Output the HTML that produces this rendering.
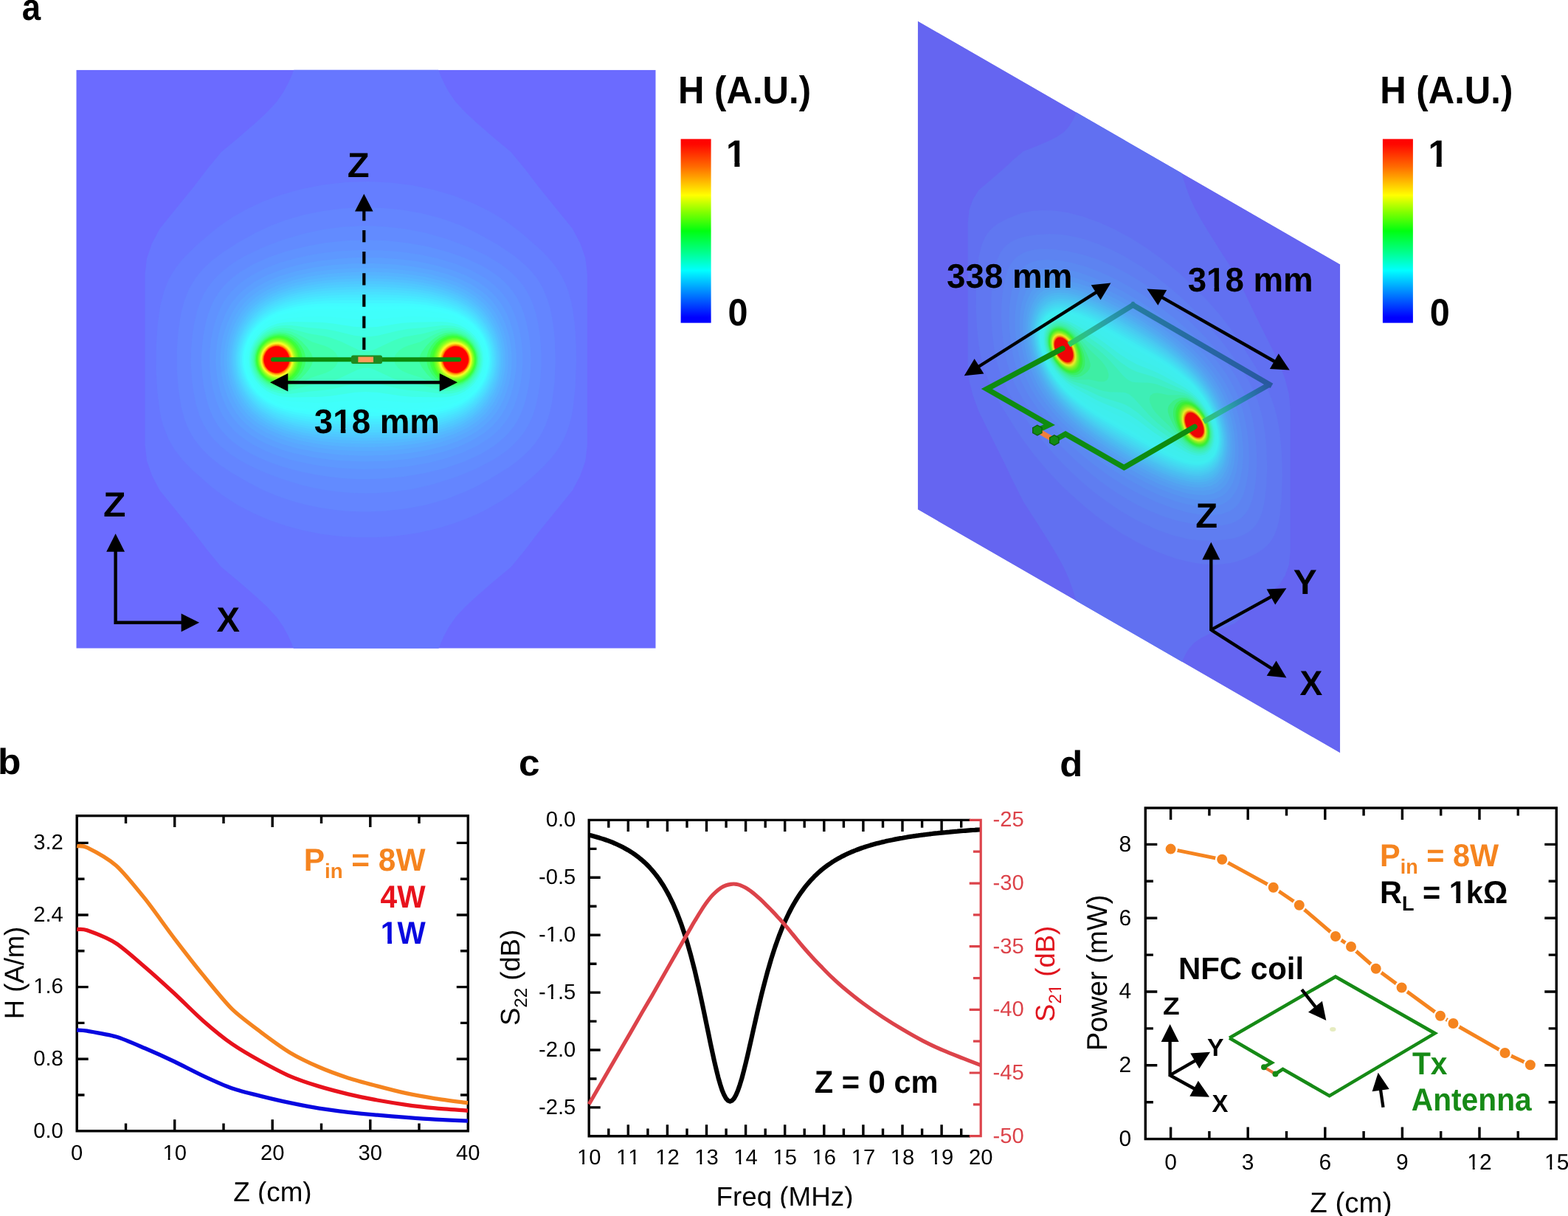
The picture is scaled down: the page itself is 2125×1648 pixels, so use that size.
<!DOCTYPE html>
<html lang="en"><head><meta charset="utf-8"><title>Figure: H-field of Tx antenna, S-parameters and harvested power</title>
<style>
html,body{margin:0;padding:0;background:#fff;}
body{width:2125px;height:1648px;overflow:hidden;}
svg{display:block;font-family:'Liberation Sans', Arial, sans-serif;font-kerning:none;text-rendering:geometricPrecision;}
</style></head><body>
<svg width="2125" height="1648" viewBox="0 0 2125 1648">
<defs>
<clipPath id="hmclip"><rect x="103.3" y="94.7" width="785.4" height="784.0"/></clipPath>
<linearGradient id="cbar" x1="0" y1="0" x2="0" y2="1">
<stop offset="0" stop-color="#ff0000"/><stop offset="0.03" stop-color="#ff0800"/><stop offset="0.15" stop-color="#ff6a00"/><stop offset="0.306" stop-color="#ffff00"/>
<stop offset="0.40" stop-color="#80ff00"/><stop offset="0.50" stop-color="#00ff10"/><stop offset="0.62" stop-color="#00ff90"/><stop offset="0.715" stop-color="#00ffff"/>
<stop offset="0.85" stop-color="#0078ff"/><stop offset="0.97" stop-color="#0000ff"/><stop offset="1" stop-color="#0000ff"/>
</linearGradient>
<g id="hm" clip-path="url(#hmclip)">
<rect x="103.3" y="94.7" width="785.4" height="784.0" fill="#6b6bff"/>
<polygon fill="#6777ff" points="398.5,94.0 395.0,103.0 390.5,113.0 384.0,125.0 375.0,138.0 362.0,152.0 347.0,166.0 324.0,186.0 300.0,206.0 281.0,229.0 263.5,252.0 240.0,281.0 216.5,310.0 206.0,330.0 199.0,350.0 196.5,372.0 196.5,602.6 199.0,624.6 206.0,644.6 216.5,664.6 240.0,693.6 263.5,722.6 281.0,745.6 300.0,768.6 324.0,788.6 347.0,808.6 362.0,822.6 375.0,836.6 384.0,849.6 390.5,861.6 395.0,871.6 398.5,880.6 593.9,880.6 597.4,871.6 601.9,861.6 608.4,849.6 617.4,836.6 630.4,822.6 645.4,808.6 668.4,788.6 692.4,768.6 711.4,745.6 728.9,722.6 752.4,693.6 775.9,664.6 786.4,644.6 793.4,624.6 795.9,602.6 795.9,372.0 793.4,350.0 786.4,330.0 775.9,310.0 752.4,281.0 728.9,252.0 711.4,229.0 692.4,206.0 668.4,186.0 645.4,166.0 630.4,152.0 617.4,138.0 608.4,125.0 601.9,113.0 597.4,103.0 593.9,94.0"/>
<path fill="#657eff" d="M533.3,726.7L509.3,728.3L483.3,728.3L459.3,726.7L435.3,723.7L411.3,719.0L387.3,712.6L365.3,705.0L343.3,695.6L321.3,684.0L301.3,671.1L285.3,658.7L259.3,635.7L246.9,622.7L236.2,608.7L228.2,594.7L221.8,578.7L219.0,568.7L216.5,556.7L213.2,530.7L211.5,500.7L211.7,468.7L213.7,438.7L217.1,414.7L222.2,394.7L228.8,378.7L233.2,370.7L238.4,362.7L244.6,354.7L251.6,346.7L269.3,329.7L295.3,307.9L315.3,294.2L335.3,283.0L357.3,272.8L381.3,263.9L409.3,256.1L439.3,250.3L469.3,247.0L499.3,246.1L529.3,247.5L559.3,251.3L587.3,257.1L615.3,265.3L641.3,275.5L663.3,286.2L685.3,299.5L705.6,314.7L732.9,338.7L741.3,347.2L749.3,356.5L755.4,364.7L761.5,374.7L766.4,384.7L770.2,394.7L773.6,406.7L776.1,418.7L778.3,434.7L779.8,450.7L780.7,468.7L781.0,488.7L779.7,524.7L776.6,552.7L774.4,564.7L771.8,574.7L768.5,584.7L764.2,594.7L758.7,604.7L753.4,612.7L745.5,622.7L735.3,633.5L723.3,644.7L704.7,660.7L693.3,669.5L681.3,677.7L657.3,691.5L643.3,698.2L629.3,704.1L615.3,709.3L599.3,714.3L583.3,718.5L567.3,721.9L551.3,724.6L533.3,726.7Z"/>
<path fill="#6485ff" d="M519.3,692.7L497.3,693.5L475.3,692.9L455.3,691.2L433.3,688.0L413.3,683.8L393.3,678.2L375.3,672.0L357.3,664.4L337.3,654.2L313.3,640.2L297.3,629.4L284.1,618.7L272.1,606.7L262.9,594.7L256.0,582.7L250.2,568.7L245.4,550.7L241.7,526.7L239.8,500.7L239.7,474.7L241.6,448.7L245.3,424.7L250.0,406.7L256.6,390.7L265.1,376.7L275.0,364.7L287.3,353.1L301.3,342.4L321.3,329.5L347.3,315.1L367.3,305.8L387.3,298.3L411.3,291.3L437.3,286.0L465.3,282.4L491.3,281.2L519.3,281.9L545.3,284.5L571.3,289.1L597.3,295.8L621.3,304.2L643.3,314.2L675.3,332.0L697.3,346.9L713.3,360.6L719.3,366.8L725.8,374.7L731.3,382.7L735.8,390.7L742.4,406.7L745.3,416.7L747.9,428.7L750.1,442.7L751.8,458.7L752.9,488.7L751.5,518.7L748.1,544.7L745.6,556.7L742.8,566.7L739.1,576.7L735.4,584.7L730.8,592.7L725.2,600.7L718.5,608.7L709.3,617.8L699.3,626.2L689.3,633.5L663.3,649.6L645.3,659.4L631.3,666.1L605.3,676.2L577.3,684.2L549.3,689.6L519.3,692.7Z"/>
<path fill="#628bff" d="M531.3,666.7L513.3,668.1L495.3,668.5L477.3,668.0L459.3,666.5L441.3,664.2L425.3,661.2L409.3,657.4L389.3,651.5L371.3,645.3L353.3,638.0L337.3,630.5L323.3,622.7L311.2,614.7L299.3,605.1L290.8,596.7L282.8,586.7L275.5,574.7L270.2,562.7L265.9,548.7L262.2,530.7L259.9,512.7L258.7,492.7L259.1,472.7L260.6,454.7L263.1,438.7L266.8,422.7L270.7,410.7L276.1,398.7L282.2,388.7L290.1,378.7L300.2,368.7L311.3,359.8L321.3,353.1L331.3,347.3L355.3,335.7L383.3,325.1L413.3,316.2L439.3,310.8L465.3,307.5L493.3,306.1L519.3,306.9L547.3,309.9L575.3,315.3L605.3,323.8L635.3,334.9L659.3,346.3L679.3,358.5L687.5,364.7L695.3,371.5L702.3,378.7L708.8,386.7L714.0,394.7L719.2,404.7L723.1,414.7L726.2,424.7L729.3,438.7L731.5,452.7L732.9,466.7L733.7,482.7L733.6,496.7L732.5,512.7L730.8,526.7L728.3,540.7L725.4,552.7L722.2,562.7L717.9,572.7L712.3,582.7L706.7,590.7L701.3,597.0L693.6,604.7L686.5,610.7L677.3,617.4L667.3,623.8L645.3,635.3L619.3,646.0L587.3,656.2L559.3,662.7L531.3,666.7Z"/>
<path fill="#6092ff" d="M517.3,648.8L501.3,649.3L483.3,649.2L465.3,648.2L447.3,646.3L429.3,643.6L411.3,640.1L395.3,636.1L379.3,631.3L365.3,626.3L351.3,620.4L339.3,614.4L327.3,607.3L317.3,600.0L308.9,592.7L301.4,584.7L295.3,576.7L289.4,566.7L284.1,554.7L279.8,540.7L275.9,522.7L273.9,506.7L273.0,490.7L273.5,472.7L275.2,456.7L278.1,440.7L281.8,426.7L286.2,414.7L291.1,404.7L297.6,394.7L305.3,385.5L314.7,376.7L325.3,368.7L343.3,358.1L365.3,348.3L389.3,340.2L415.3,333.7L441.3,329.1L471.3,326.0L499.3,325.2L525.3,326.3L553.3,329.4L579.3,334.1L607.3,341.4L631.3,349.9L651.3,359.2L661.3,364.9L670.0,370.7L677.3,376.3L684.3,382.7L690.0,388.7L696.2,396.7L701.3,404.7L706.2,414.7L709.9,424.7L713.3,436.7L715.9,448.7L718.0,462.7L719.0,474.7L719.4,488.7L718.9,502.7L717.7,514.7L715.8,526.7L712.6,540.7L709.7,550.7L705.8,560.7L700.8,570.7L695.7,578.7L689.3,586.7L683.5,592.7L669.3,604.4L651.3,615.4L629.3,625.5L603.3,634.4L575.3,641.3L547.3,646.0L517.3,648.8Z"/>
<path fill="#5e98ff" d="M527.3,634.7L493.3,635.9L459.3,634.3L441.3,632.3L425.3,629.9L395.3,623.4L381.3,619.2L367.3,614.2L355.3,609.1L343.3,602.8L333.3,596.6L323.3,589.0L316.6,582.7L309.5,574.7L302.7,564.7L297.5,554.7L292.9,542.7L288.9,528.7L286.1,514.7L284.5,500.7L284.0,486.7L284.6,472.7L286.3,458.7L289.2,444.7L293.3,430.7L298.1,418.7L303.4,408.7L309.3,400.2L317.3,391.2L325.3,384.0L333.3,378.0L341.3,372.9L359.3,363.7L379.3,356.0L403.3,349.2L429.3,344.0L457.3,340.5L485.3,338.9L515.3,339.2L543.3,341.3L569.3,345.1L593.3,350.2L617.3,357.5L637.3,365.6L655.3,375.5L663.3,381.0L670.3,386.7L676.6,392.7L681.9,398.7L687.7,406.7L692.4,414.7L696.9,424.7L700.4,434.7L703.7,446.7L705.8,456.7L707.4,468.7L708.3,480.7L708.3,492.7L707.5,504.7L706.0,516.7L703.5,528.7L700.2,540.7L696.6,550.7L691.9,560.7L687.2,568.7L677.3,581.2L671.3,587.0L663.3,593.6L647.3,603.9L627.3,613.3L605.3,621.0L581.3,627.2L555.3,631.8L527.3,634.7Z"/>
<path fill="#5c9fff" d="M525.3,624.7L491.3,625.6L457.3,624.0L425.3,620.0L397.3,614.0L383.3,609.9L371.3,605.6L361.3,601.4L351.3,596.4L341.3,590.4L333.3,584.6L325.3,577.5L319.0,570.7L313.0,562.7L307.2,552.7L302.0,540.7L298.1,528.7L294.9,514.7L293.2,502.7L292.4,490.7L292.8,476.7L294.4,462.7L296.8,450.7L300.3,438.7L305.9,424.7L311.2,414.7L316.7,406.7L323.7,398.7L331.3,391.7L345.3,381.7L363.3,372.3L385.3,364.1L407.3,358.2L431.3,353.7L459.3,350.4L485.3,349.1L513.3,349.3L541.3,351.2L565.3,354.3L589.3,359.2L611.3,365.5L631.3,373.3L647.3,381.8L661.3,391.8L667.3,397.3L673.3,403.8L678.6,410.7L683.5,418.7L688.3,428.7L692.1,438.7L695.1,448.7L697.7,460.7L699.8,480.7L699.9,492.7L699.2,502.7L695.9,522.7L692.5,534.7L688.8,544.7L684.1,554.7L679.4,562.7L675.0,568.7L669.3,575.3L663.3,581.0L655.3,587.4L639.3,597.3L621.3,605.5L601.3,612.3L577.3,618.1L553.3,622.0L525.3,624.7Z"/>
<path fill="#5aa6ff" d="M527.3,616.7L493.3,617.7L461.3,616.4L431.3,613.1L403.3,607.7L381.3,601.4L371.3,597.6L359.3,592.2L349.3,586.6L341.3,581.2L333.4,574.7L327.3,568.7L320.8,560.7L315.6,552.7L310.5,542.7L305.8,530.7L302.4,518.7L300.1,506.7L298.9,494.7L298.8,482.7L299.7,470.7L301.7,458.7L304.3,448.7L308.5,436.7L314.1,424.7L318.8,416.7L325.3,408.2L333.3,400.0L339.6,394.7L347.3,389.3L361.3,381.5L379.3,373.9L401.3,367.4L425.3,362.4L449.3,359.2L477.3,357.3L505.3,357.0L533.3,358.3L559.3,361.2L583.3,365.5L605.3,371.3L623.3,377.9L639.3,385.8L653.3,395.1L659.9,400.7L665.8,406.7L670.7,412.7L676.1,420.7L680.4,428.7L684.7,438.7L688.1,448.7L690.7,458.7L692.4,468.7L693.5,480.7L693.6,490.7L693.0,500.7L691.7,510.7L689.5,520.7L686.6,530.7L682.7,540.7L679.0,548.7L674.4,556.7L665.1,568.7L653.3,579.5L645.3,585.2L637.3,589.9L621.3,597.5L603.3,603.9L579.3,609.9L555.3,614.0L527.3,616.7Z"/>
<path fill="#58acff" d="M521.3,610.7L489.3,611.3L457.3,609.9L427.3,606.3L401.3,601.1L389.3,597.7L377.3,593.6L359.3,585.5L351.3,580.8L343.3,575.3L335.6,568.7L329.9,562.7L323.7,554.7L318.8,546.7L313.8,536.7L310.0,526.7L306.6,514.7L304.7,504.7L303.6,492.7L303.7,480.7L304.6,470.7L306.9,458.7L310.4,446.7L314.4,436.7L319.4,426.7L324.5,418.7L330.9,410.7L337.3,404.3L349.3,395.0L365.3,386.1L381.3,379.5L403.3,373.0L427.3,368.3L451.3,365.3L479.3,363.5L507.3,363.3L533.3,364.6L559.3,367.4L583.3,371.7L603.3,376.9L621.3,383.5L637.3,391.4L650.8,400.7L661.5,410.7L666.4,416.7L671.8,424.7L676.1,432.7L680.5,442.7L683.9,452.7L686.0,460.7L687.8,470.7L688.7,480.7L688.9,490.7L688.2,500.7L686.7,510.7L684.3,520.7L681.0,530.7L677.7,538.7L673.6,546.7L668.7,554.7L659.3,566.2L647.3,576.6L633.3,585.4L615.3,593.5L595.3,600.0L571.3,605.3L545.3,608.9L521.3,610.7Z"/>
<path fill="#56b3ff" d="M533.3,604.8L501.3,606.1L469.3,605.4L439.3,602.9L411.3,598.3L387.3,592.0L367.3,584.1L351.3,575.1L343.3,569.1L337.3,563.7L331.0,556.7L325.2,548.7L319.6,538.7L315.1,528.7L311.7,518.7L309.0,506.7L307.7,496.7L307.3,486.7L308.0,474.7L309.6,464.7L312.1,454.7L315.6,444.7L320.2,434.7L326.0,424.7L331.3,417.5L337.3,410.9L347.3,402.3L361.3,393.5L377.3,386.2L397.3,379.7L417.3,375.1L443.3,371.3L469.3,369.2L497.3,368.5L525.3,369.3L551.3,371.5L575.3,375.1L595.3,379.7L615.3,386.3L631.3,393.6L643.3,401.0L655.3,411.1L661.3,417.7L666.4,424.7L671.2,432.7L675.1,440.7L678.4,448.7L681.4,458.7L683.6,468.7L684.6,476.7L684.9,494.7L684.1,502.7L682.2,512.7L680.1,520.7L676.5,530.7L671.8,540.7L667.2,548.7L658.0,560.7L647.3,570.6L633.3,579.9L617.3,587.6L599.3,593.8L581.3,598.3L559.3,602.1L533.3,604.8Z"/>
<path fill="#54b9ff" d="M525.3,600.7L493.3,601.5L461.3,600.4L433.3,597.7L409.3,593.5L387.3,587.6L377.3,584.0L367.3,579.6L359.3,575.3L351.3,570.2L339.3,560.1L332.8,552.7L327.3,544.9L322.6,536.7L318.0,526.7L314.6,516.7L312.2,506.7L310.8,496.7L310.4,486.7L310.9,476.7L312.4,466.7L314.9,456.7L318.5,446.7L322.2,438.7L327.9,428.7L333.3,421.3L339.3,414.5L351.3,404.4L365.3,396.0L381.3,389.1L399.3,383.5L419.3,379.1L443.3,375.7L469.3,373.8L497.3,373.1L523.3,373.8L549.3,375.8L573.3,379.2L593.3,383.5L611.3,389.2L627.3,396.1L641.3,404.6L653.2,414.7L659.3,421.5L664.5,428.7L669.2,436.7L673.1,444.7L676.2,452.7L679.1,462.7L680.7,470.7L681.8,480.7L682.0,490.7L681.4,498.7L680.2,506.7L677.8,516.7L671.8,532.7L667.6,540.7L662.6,548.7L653.3,559.9L641.3,570.0L627.3,578.5L611.3,585.4L593.3,591.0L573.3,595.4L549.3,598.8L525.3,600.7Z"/>
<path fill="#52c0ff" d="M523.3,596.7L491.3,597.3L461.3,596.3L433.3,593.7L409.3,589.6L387.3,583.7L369.3,576.5L361.3,572.3L353.3,567.2L341.3,557.2L335.3,550.4L329.7,542.7L324.0,532.7L320.3,524.7L316.9,514.7L314.6,504.7L313.5,496.7L313.1,486.7L313.6,476.7L314.8,468.7L317.3,458.7L320.8,448.7L324.6,440.7L330.5,430.7L335.3,424.2L341.3,417.4L353.3,407.4L365.3,400.1L381.3,393.0L399.3,387.4L419.3,383.0L441.3,380.0L467.3,378.0L495.3,377.3L523.3,377.9L549.3,379.8L571.3,382.7L591.3,386.9L609.3,392.4L625.3,399.2L639.3,407.5L650.4,416.7L655.9,422.7L661.9,430.7L666.7,438.7L670.7,446.7L673.9,454.7L676.3,462.7L678.3,472.7L679.1,480.7L679.3,488.7L678.7,498.7L675.5,514.7L672.1,524.7L668.4,532.7L659.9,546.7L651.3,557.0L639.3,567.1L625.3,575.4L611.3,581.5L591.3,587.7L571.3,591.9L547.3,595.0L523.3,596.7Z"/>
<path fill="#50c7ff" d="M527.3,592.7L497.3,593.5L465.3,592.7L437.3,590.5L413.3,586.8L391.3,581.4L373.3,574.7L365.3,570.8L357.3,566.1L345.3,556.7L339.3,550.5L333.3,542.8L328.1,534.7L324.0,526.7L320.1,516.7L317.9,508.7L316.4,500.7L315.5,490.7L315.6,480.7L316.5,472.7L318.7,462.7L321.2,454.7L324.6,446.7L329.3,437.9L334.1,430.7L340.5,422.7L351.3,412.8L363.3,404.9L377.3,398.2L395.3,392.0L413.3,387.8L435.3,384.3L457.3,382.3L483.3,381.2L513.3,381.3L539.3,382.6L563.3,385.1L585.3,389.1L603.3,393.9L619.3,400.0L633.3,407.4L645.8,416.7L651.9,422.7L657.3,429.3L662.4,436.7L666.8,444.7L670.4,452.7L673.1,460.7L676.4,476.7L677.0,484.7L676.7,494.7L674.0,510.7L671.6,518.7L668.4,526.7L660.6,540.7L651.3,552.5L641.3,561.7L629.3,569.6L613.3,577.2L595.3,583.1L575.3,587.6L551.3,590.9L527.3,592.7Z"/>
<path fill="#4ecdff" d="M533.3,588.8L503.3,589.8L471.3,589.4L443.3,587.6L419.3,584.5L397.3,579.8L379.3,573.9L363.3,566.3L351.3,558.1L345.2,552.7L338.0,544.7L332.3,536.7L327.7,528.7L324.0,520.7L320.7,510.7L318.9,502.7L317.8,494.7L317.6,484.7L318.2,476.7L319.9,466.7L322.2,458.7L325.4,450.7L329.4,442.7L334.4,434.7L339.3,428.3L348.7,418.7L359.3,410.8L371.3,404.2L387.3,397.8L403.3,393.3L423.3,389.4L445.3,386.8L469.3,385.3L499.3,384.8L529.3,385.6L553.3,387.4L575.3,390.4L595.3,394.9L613.3,400.8L629.3,408.4L641.4,416.7L647.3,422.0L653.3,428.6L658.0,434.7L663.0,442.7L667.0,450.7L670.2,458.7L672.5,466.7L674.0,474.7L674.8,482.7L674.8,490.7L674.1,498.7L672.7,506.7L670.6,514.7L667.6,522.7L660.1,536.7L651.3,548.4L641.3,558.0L629.3,566.2L615.3,573.0L597.3,579.2L579.3,583.4L557.3,586.8L533.3,588.8Z"/>
<path fill="#4dd4ff" d="M541.3,584.8L511.3,586.1L477.3,586.0L449.3,584.7L425.3,582.2L403.3,578.1L385.3,572.9L369.3,566.3L355.3,557.7L349.3,552.9L343.3,547.0L337.3,539.7L332.5,532.7L328.1,524.7L324.7,516.7L322.2,508.7L320.6,500.7L319.7,492.7L319.6,482.7L320.4,474.7L322.0,466.7L324.5,458.7L327.8,450.7L331.3,444.0L336.0,436.7L345.3,425.5L355.3,416.9L367.3,409.4L379.3,403.9L393.3,399.1L411.3,394.8L429.3,391.9L451.3,389.8L481.3,388.5L515.3,388.6L543.3,389.9L567.3,392.4L587.3,396.1L607.3,401.7L623.3,408.4L636.9,416.7L643.3,421.9L649.3,427.9L659.1,440.7L666.4,454.7L670.8,468.7L672.3,476.7L672.9,484.7L672.7,492.7L671.8,500.7L670.2,508.7L667.7,516.7L661.3,530.3L653.3,542.0L643.3,552.7L631.3,561.7L619.3,568.1L603.3,574.2L585.3,578.9L565.3,582.4L541.3,584.8Z"/>
<path fill="#4bdbff" d="M549.3,580.9L521.3,582.3L487.3,582.6L455.3,581.7L431.3,579.7L409.3,576.2L391.3,571.8L375.3,566.0L361.3,558.6L353.3,552.9L347.3,547.6L341.3,541.0L336.5,534.7L332.6,528.7L328.5,520.7L325.4,512.7L323.2,504.7L321.9,496.7L321.3,488.7L321.6,480.7L322.7,472.7L324.6,464.7L327.3,456.7L331.1,448.7L334.6,442.7L342.0,432.7L351.3,423.4L361.3,416.0L373.3,409.5L387.3,404.1L403.3,399.6L421.3,396.2L439.3,394.1L467.3,392.4L503.3,392.0L535.3,392.8L561.3,394.9L583.3,398.4L601.3,402.9L617.3,408.7L631.3,416.1L643.3,425.3L653.6,436.7L657.8,442.7L662.4,450.7L667.8,464.7L670.6,478.7L671.1,486.7L670.7,494.7L669.6,502.7L667.6,510.7L661.9,524.7L654.5,536.7L645.3,547.4L635.3,555.8L623.3,563.1L609.3,569.1L591.3,574.4L571.3,578.3L549.3,580.9Z"/>
<path fill="#49e1ff" d="M523.3,578.7L489.3,579.0L459.3,578.4L437.3,577.0L417.3,574.5L397.3,570.4L381.3,565.4L367.3,559.1L355.3,551.3L349.3,546.2L343.3,539.9L337.7,532.7L333.8,526.7L330.7,520.7L327.4,512.7L323.9,498.7L323.1,490.7L323.2,482.7L324.1,474.7L325.9,466.7L328.6,458.7L331.2,452.7L334.5,446.7L339.3,439.6L347.3,430.4L357.3,421.8L367.3,415.5L379.3,410.0L393.3,405.3L411.3,401.1L429.3,398.4L449.3,396.7L481.3,395.7L519.3,395.8L547.3,397.0L569.3,399.2L591.3,403.3L609.3,408.5L623.3,414.6L636.3,422.7L643.3,428.6L649.1,434.7L657.9,446.7L661.3,453.0L664.6,460.7L667.0,468.7L668.6,476.7L669.3,484.7L669.1,492.7L666.8,506.7L661.7,520.7L657.4,528.7L653.3,534.7L643.3,546.0L633.3,554.1L621.3,561.0L607.3,566.8L589.3,571.8L569.3,575.4L549.3,577.5L523.3,578.7Z"/>
<path fill="#47e8ff" d="M537.3,574.7L505.3,575.3L467.3,575.1L445.3,574.3L425.3,572.5L407.3,569.6L389.3,565.1L373.3,559.1L361.3,552.6L355.3,548.2L349.3,543.0L339.3,531.5L331.8,518.7L328.6,510.7L326.8,504.7L324.8,490.7L324.9,482.7L325.8,474.7L329.7,460.7L333.3,452.8L336.8,446.7L344.4,436.7L353.3,428.0L363.3,420.8L373.3,415.4L387.3,410.1L401.3,406.3L419.3,402.9L437.3,400.9L465.3,399.6L509.3,399.3L539.3,400.0L563.3,401.7L583.3,404.7L603.3,409.5L619.3,415.5L631.3,422.2L637.3,426.5L643.3,431.8L653.3,443.4L657.3,449.5L661.0,456.7L664.1,464.7L665.8,470.7L667.6,484.7L666.8,498.7L663.1,512.7L659.7,520.7L656.3,526.7L649.0,536.7L639.3,546.4L629.3,553.7L615.3,560.8L599.3,566.2L581.3,570.3L561.3,573.1L537.3,574.7Z"/>
<path fill="#45eeff" d="M547.3,570.8L521.3,571.4L469.3,571.4L447.3,570.9L429.3,569.6L411.3,567.2L393.3,563.3L379.3,558.8L367.3,553.3L355.3,545.3L349.3,540.0L343.3,533.5L335.3,521.7L329.7,508.7L328.1,502.7L326.7,494.7L326.7,480.7L327.9,472.7L329.4,466.7L332.4,458.7L335.4,452.7L341.3,443.7L349.3,434.6L359.3,426.3L369.3,420.3L381.3,415.1L395.3,410.8L411.3,407.4L427.3,405.2L447.3,403.7L475.3,403.2L529.3,403.3L557.3,404.5L577.3,406.8L595.3,410.4L611.3,415.2L625.3,421.4L637.3,429.5L643.3,434.8L648.7,440.7L657.0,452.7L662.3,464.7L664.1,470.7L665.5,478.7L665.8,492.7L664.8,500.7L663.3,506.7L660.5,514.7L657.6,520.7L649.7,532.7L641.3,541.7L631.3,549.5L619.3,556.2L605.3,561.5L587.3,566.0L567.3,569.2L547.3,570.8Z"/>
<path fill="#43f5ff" d="M555.3,566.8L531.3,567.5L465.3,567.6L431.3,566.4L413.3,564.3L395.3,560.7L381.3,556.6L369.3,551.5L357.3,544.0L347.0,534.7L342.0,528.7L337.9,522.7L332.1,510.7L330.2,504.7L328.5,496.7L328.0,490.7L328.0,482.7L328.7,476.7L330.5,468.7L335.2,456.7L341.3,446.8L349.3,437.5L357.3,430.6L367.3,424.2L377.3,419.5L391.3,414.9L407.3,411.3L423.3,409.0L441.3,407.6L461.3,407.1L533.3,407.1L557.3,407.9L577.3,410.0L595.3,413.4L611.3,418.0L623.3,423.2L635.3,430.8L646.1,440.7L651.0,446.7L655.0,452.7L660.6,464.7L663.7,476.7L664.4,482.7L664.4,490.7L663.8,496.7L662.2,504.7L657.7,516.7L651.3,527.5L643.3,536.9L633.3,545.3L621.3,552.4L609.3,557.2L593.3,561.6L575.3,564.8L555.3,566.8Z"/>
<path fill="#41fcff" d="M563.3,562.8L537.3,563.7L453.3,563.7L433.3,563.1L415.3,561.3L399.3,558.6L385.3,555.1L373.3,550.6L361.3,544.1L355.3,539.7L349.3,534.3L341.3,524.7L334.6,512.7L330.8,500.7L329.8,494.7L329.4,486.7L329.9,478.7L331.1,472.7L335.1,460.7L340.7,450.7L347.3,442.4L355.3,434.9L365.3,428.0L375.3,423.1L387.3,419.0L401.3,415.6L417.3,413.1L433.3,411.5L449.3,411.0L539.3,410.9L557.3,411.4L575.3,413.1L593.3,416.1L607.3,419.6L619.3,424.1L631.3,430.7L641.4,438.7L650.3,448.7L654.2,454.7L657.3,460.7L661.3,472.7L663.0,484.7L662.8,492.7L662.0,498.7L658.6,510.7L653.3,521.4L645.3,532.0L635.3,541.1L625.3,547.6L613.3,553.0L599.3,557.2L581.3,560.7L563.3,562.8Z"/>
<path fill="#40fffe" d="M569.3,558.8L545.3,559.8L499.3,559.1L451.3,559.8L433.3,559.5L417.3,558.2L399.3,555.4L385.3,552.2L375.3,548.8L363.3,542.7L353.3,535.4L344.9,526.7L340.6,520.7L337.2,514.7L332.8,502.7L330.9,490.7L330.8,484.7L331.7,476.7L335.1,464.7L340.1,454.7L345.9,446.7L353.3,439.2L363.3,431.9L373.3,426.7L383.3,423.0L395.3,420.0L411.3,417.2L427.3,415.5L443.3,414.8L495.3,415.6L541.3,414.8L557.3,415.0L575.3,416.5L591.3,418.8L605.3,421.9L617.3,425.9L629.3,432.0L639.3,439.3L648.1,448.7L652.3,454.7L655.6,460.7L659.8,472.7L661.5,484.7L660.9,496.7L657.8,508.7L653.0,518.7L645.8,528.7L637.3,536.9L627.3,543.8L615.3,549.5L603.3,553.2L587.3,556.5L569.3,558.8Z"/>
<path fill="#40fffc" d="M573.3,554.9L551.3,556.0L497.3,554.5L449.3,555.9L431.3,555.7L415.3,554.5L399.3,552.3L387.3,549.9L377.3,546.9L365.3,541.4L355.3,534.7L349.3,529.2L345.4,524.7L338.9,514.7L334.2,502.7L332.2,490.7L332.8,478.7L335.9,466.7L339.5,458.7L345.3,450.0L353.3,441.6L361.3,435.6L369.3,431.1L379.3,427.0L391.3,423.8L405.3,421.3L421.3,419.5L437.3,418.7L495.3,420.1L557.3,418.7L573.3,419.7L591.3,422.0L605.3,424.8L615.3,427.8L627.3,433.3L637.3,440.1L646.0,448.7L653.3,459.5L657.9,470.7L660.1,482.7L659.8,494.7L657.0,506.7L652.4,516.7L645.3,526.7L637.3,534.5L627.3,541.3L617.3,546.1L605.3,549.8L591.3,552.6L573.3,554.9Z"/>
<path fill="#40fffb" d="M573.3,552.8L549.3,553.6L493.3,551.7L449.3,553.5L431.3,553.5L415.3,552.4L399.3,550.5L387.3,548.2L377.3,545.3L365.3,540.0L355.3,533.3L346.6,524.7L339.9,514.7L335.6,504.7L333.2,492.7L333.3,480.7L336.0,468.7L340.5,458.7L345.3,451.6L351.3,444.9L359.3,438.3L367.3,433.5L377.3,429.3L387.3,426.4L401.3,423.9L419.3,421.8L435.3,421.0L495.3,422.9L543.3,421.1L559.3,421.0L575.3,422.0L591.3,423.9L605.3,426.4L615.3,429.3L627.3,434.7L637.3,441.5L646.4,450.7L652.9,460.7L657.0,470.7L659.3,482.7L659.0,494.7L656.1,506.7L651.4,516.7L645.3,525.3L637.3,533.1L627.3,539.9L617.3,544.5L605.3,548.2L591.3,550.7L573.3,552.8Z"/>
<path fill="#40fff7" d="M587.3,544.7L567.3,545.7L553.3,545.7L511.3,542.2L495.3,541.7L479.3,542.3L445.3,545.4L427.3,545.8L395.3,543.9L385.3,542.5L377.3,540.6L367.3,536.7L357.3,530.6L349.3,523.2L343.0,514.7L338.3,504.7L335.9,494.7L335.6,482.7L337.4,472.7L340.4,464.7L343.7,458.7L349.3,451.4L355.3,445.6L363.3,440.0L371.3,436.1L379.3,433.4L389.3,431.4L411.3,429.5L435.3,428.8L449.3,429.5L481.3,432.4L499.3,432.9L513.3,432.3L547.3,429.2L563.3,428.8L597.3,430.7L607.3,432.1L615.3,434.1L625.3,438.0L635.3,444.2L643.3,451.6L649.3,459.7L653.7,468.7L656.4,478.7L656.9,490.7L655.3,500.7L651.6,510.7L646.8,518.7L639.3,527.1L631.3,533.2L623.3,537.6L613.3,541.1L601.3,543.4L587.3,544.7Z"/>
<path fill="#40ffe6" d="M613.3,536.8L605.3,538.1L597.3,538.5L557.3,537.7L543.3,536.5L511.3,531.7L495.3,530.9L481.3,531.7L449.3,536.4L435.3,537.7L395.3,538.5L387.3,538.1L379.3,536.9L369.3,533.8L361.3,529.7L353.3,523.5L345.9,514.7L341.5,506.7L338.4,496.7L337.5,486.7L338.7,476.7L340.4,470.7L344.1,462.7L349.3,455.4L355.3,449.3L361.3,445.0L367.3,441.7L375.3,438.7L383.3,437.0L397.3,436.1L437.3,437.0L451.3,438.4L479.3,442.7L495.3,443.7L511.3,442.9L543.3,438.1L557.3,436.9L597.3,436.1L605.3,436.5L613.3,437.8L621.3,440.1L629.3,443.9L637.3,449.5L643.3,455.6L648.3,462.7L652.0,470.7L654.1,478.7L654.9,486.7L654.3,494.7L652.4,502.7L648.9,510.7L643.3,519.0L637.3,525.1L629.3,530.7L621.3,534.5L613.3,536.8Z"/>
<path fill="#40ffd3" d="M613.3,533.1L607.3,533.7L599.3,533.7L575.3,530.7L552.3,528.7L539.3,526.4L511.3,519.7L497.3,518.3L489.3,518.6L481.3,519.7L451.9,526.7L439.3,528.8L417.3,530.7L393.3,533.7L385.3,533.8L377.3,532.7L367.3,529.6L359.3,525.1L353.3,520.1L347.3,512.8L342.9,504.7L340.4,496.7L339.5,488.7L340.3,478.7L342.6,470.7L345.5,464.7L349.6,458.7L355.3,452.7L361.3,448.2L367.3,445.0L373.3,442.8L381.3,441.2L387.3,440.8L395.3,441.1L415.3,443.7L441.3,446.1L453.3,448.2L481.3,454.9L495.3,456.3L503.3,456.0L511.3,454.9L539.3,448.2L553.3,445.8L575.3,443.9L599.3,440.9L607.3,440.9L615.3,441.9L623.3,444.3L631.3,448.3L637.3,452.9L642.8,458.7L646.9,464.7L650.5,472.7L652.5,480.7L652.9,488.7L652.0,496.7L649.5,504.7L646.5,510.7L641.3,517.7L635.3,523.4L629.3,527.5L621.3,531.1L613.3,533.1Z"/>
<path fill="#40ffbf" d="M617.3,529.1L609.3,530.1L599.3,529.4L573.3,522.3L547.3,517.8L532.4,512.7L505.3,500.1L499.3,498.6L495.3,498.4L489.3,499.4L485.3,500.8L460.0,512.7L447.3,517.2L439.3,519.0L419.3,522.3L393.3,529.3L385.3,530.1L377.3,529.5L369.3,527.5L361.3,523.5L353.3,517.0L348.2,510.7L344.1,502.7L341.9,494.7L341.2,486.7L342.1,478.7L343.8,472.7L346.6,466.7L350.6,460.7L355.3,455.6L361.3,451.1L367.3,447.9L373.3,445.9L379.3,444.8L385.3,444.5L393.3,445.3L419.3,452.3L439.3,455.6L447.3,457.4L461.9,462.7L485.3,473.9L491.3,475.7L495.3,476.3L501.3,475.7L507.3,473.8L531.3,462.4L539.3,459.2L547.3,456.8L573.3,452.3L599.3,445.2L607.3,444.5L615.3,445.1L623.3,447.2L629.3,450.0L635.3,454.1L641.3,460.1L645.8,466.7L648.6,472.7L650.3,478.7L651.2,486.7L650.5,494.7L649.0,500.7L645.4,508.7L641.3,514.5L637.3,518.8L631.3,523.4L625.3,526.6L617.3,529.1Z"/>
<path fill="#40ffac" d="M385.3,526.9L379.3,526.9L373.3,526.0L367.3,524.1L361.3,521.0L355.3,516.3L351.3,511.9L347.9,506.7L345.2,500.7L343.5,494.7L342.8,488.7L343.1,482.7L344.2,476.7L346.4,470.7L349.9,464.7L354.9,458.7L359.3,455.0L367.3,450.5L375.3,448.2L383.3,447.6L393.3,449.1L402.6,452.7L423.3,463.5L439.3,468.4L445.0,470.7L451.3,474.7L455.3,478.7L458.2,484.7L458.0,490.7L454.6,496.7L449.3,501.4L441.3,505.5L421.3,511.9L399.3,523.4L391.3,526.0L385.3,526.9ZM613.3,526.9L603.3,526.4L595.3,524.2L587.4,520.7L571.3,512.0L553.3,506.3L545.2,502.7L539.7,498.7L535.2,492.7L534.0,486.7L535.8,480.7L541.1,474.7L547.4,470.7L553.3,468.3L569.3,463.4L589.8,452.7L599.3,449.1L607.3,447.7L615.3,447.9L623.3,449.8L631.3,453.8L637.3,458.5L641.1,462.7L643.8,466.7L646.8,472.7L648.6,478.7L649.5,484.7L649.4,490.7L648.5,496.7L646.5,502.7L643.3,508.7L639.3,514.0L635.3,517.9L631.3,520.8L625.3,524.0L619.3,526.0L613.3,526.9Z"/>
<path fill="#3eff8e" d="M389.3,523.2L383.3,524.3L375.3,524.0L369.3,522.5L363.3,519.9L357.3,515.7L352.5,510.7L348.6,504.7L345.5,496.7L344.4,490.7L344.5,482.7L346.4,474.7L349.2,468.7L353.5,462.7L359.3,457.3L365.3,453.7L371.3,451.4L379.3,450.2L387.3,450.9L395.3,453.5L401.2,456.7L408.9,462.7L416.3,470.7L421.7,478.7L424.0,484.7L424.2,488.7L422.3,494.7L418.7,500.7L413.9,506.7L408.0,512.7L401.3,517.9L395.3,521.1L389.3,523.2ZM621.3,523.1L615.3,524.2L607.3,524.1L599.3,522.0L592.4,518.7L584.3,512.7L578.5,506.7L572.4,498.7L570.1,494.7L568.5,490.7L568.1,486.7L569.7,480.7L571.9,476.7L577.8,468.7L583.5,462.7L589.3,458.0L595.3,454.3L603.3,451.3L611.3,450.2L617.3,450.7L625.3,452.9L631.3,456.0L637.0,460.7L641.3,465.8L645.2,472.7L647.1,478.7L648.1,484.7L647.7,492.7L645.6,500.7L642.7,506.7L638.2,512.7L633.3,517.1L627.3,520.8L621.3,523.1Z"/>
<path fill="#3cff69" d="M387.3,521.0L381.3,522.0L373.3,521.5L367.3,519.8L361.3,516.6L355.3,511.6L351.4,506.7L348.2,500.7L346.4,494.7L345.6,488.7L346.2,480.7L347.9,474.7L350.9,468.7L355.3,463.0L359.3,459.4L365.3,455.7L371.3,453.5L379.3,452.5L385.3,453.1L391.3,454.9L397.3,458.1L403.0,462.7L408.1,468.7L411.5,474.7L413.5,480.7L414.3,486.7L413.8,492.7L412.0,498.7L408.9,504.7L404.2,510.7L399.9,514.7L393.5,518.7L387.3,521.0ZM621.3,521.0L615.3,522.0L607.3,521.5L601.3,519.8L595.3,516.7L590.2,512.7L584.9,506.7L580.4,498.7L578.6,492.7L578.1,486.7L578.9,480.7L580.9,474.7L584.3,468.7L589.4,462.7L594.2,458.7L599.3,455.7L605.3,453.5L613.3,452.5L619.3,453.1L625.3,454.9L631.3,458.1L635.3,461.2L640.2,466.7L643.6,472.7L645.7,478.7L646.7,484.7L646.4,492.7L644.9,498.7L642.2,504.7L637.9,510.7L633.3,515.0L627.3,518.8L621.3,521.0Z"/>
<path fill="#39ff44" d="M385.3,519.2L379.3,520.1L373.3,519.7L367.3,518.0L361.3,514.8L357.3,511.6L353.0,506.7L349.6,500.7L347.6,494.7L346.8,488.7L347.1,482.7L348.5,476.7L351.3,470.6L355.3,465.1L359.3,461.3L365.3,457.5L371.3,455.4L377.3,454.6L383.3,455.0L389.3,456.7L395.3,459.9L400.8,464.7L404.0,468.7L407.2,474.7L409.1,480.7L409.9,486.7L409.4,492.7L407.7,498.7L404.8,504.7L401.9,508.7L397.3,513.2L391.3,517.0L385.3,519.2ZM621.3,519.2L615.3,520.1L609.3,519.7L603.3,518.0L597.3,514.8L592.3,510.7L589.0,506.7L585.5,500.7L583.4,494.7L582.6,488.7L582.9,482.7L584.3,476.7L587.2,470.7L591.6,464.7L596.0,460.7L601.3,457.5L607.3,455.3L613.3,454.5L619.3,455.0L625.3,456.7L631.3,460.0L635.3,463.2L639.9,468.7L643.1,474.7L644.9,480.7L645.6,486.7L645.1,492.7L643.6,498.7L640.7,504.7L637.3,509.3L633.3,513.1L627.3,517.0L621.3,519.2Z"/>
<path fill="#43ff2e" d="M385.3,517.2L379.3,518.2L373.3,518.0L367.3,516.3L363.3,514.4L359.3,511.6L354.6,506.7L350.9,500.7L348.8,494.7L348.0,488.7L348.3,482.7L349.8,476.7L352.6,470.7L357.3,464.9L361.3,461.5L365.3,459.2L371.3,457.0L377.3,456.3L383.3,456.9L389.3,458.9L393.3,461.2L397.5,464.7L402.2,470.7L404.3,474.7L406.2,480.7L406.9,486.7L406.4,492.7L404.8,498.7L402.9,502.7L399.3,507.9L395.3,511.9L391.2,514.7L385.3,517.2ZM623.3,516.9L617.3,518.2L611.3,518.1L605.3,516.6L601.2,514.7L595.7,510.7L592.1,506.7L588.5,500.7L586.4,494.7L585.6,488.7L585.9,482.7L587.4,476.7L590.2,470.7L593.1,466.7L597.3,462.6L601.3,459.8L607.3,457.3L613.3,456.3L619.3,456.7L623.3,457.6L629.3,460.4L633.3,463.2L638.4,468.7L640.9,472.7L643.3,478.7L644.4,484.7L644.3,490.7L643.0,496.7L640.5,502.7L637.3,507.3L633.3,511.4L629.3,514.2L623.3,516.9Z"/>
<path fill="#5dff2a" d="M385.3,515.4L379.3,516.6L373.3,516.4L369.3,515.5L363.3,512.8L359.3,510.0L354.5,504.7L352.1,500.7L349.9,494.7L349.0,488.7L349.3,482.7L350.2,478.7L352.8,472.7L355.4,468.7L359.3,464.7L363.3,461.7L369.3,459.1L375.3,457.9L379.3,458.0L385.3,459.2L389.3,461.0L394.6,464.7L398.3,468.7L400.9,472.7L403.3,478.7L404.5,484.7L404.4,490.7L403.1,496.7L401.5,500.7L399.2,504.7L395.3,509.3L390.9,512.7L385.3,515.4ZM625.3,514.7L619.3,516.4L613.3,516.6L607.3,515.4L603.3,513.7L598.7,510.7L594.7,506.7L591.9,502.7L589.3,496.7L588.0,490.7L587.9,484.7L588.5,480.7L590.5,474.7L594.1,468.7L597.3,465.1L601.3,462.0L607.3,459.2L613.3,458.0L619.3,458.2L625.3,459.9L629.3,461.9L633.3,464.8L637.3,469.1L640.7,474.7L642.2,478.7L643.3,484.7L643.2,490.7L642.5,494.7L640.3,500.7L637.3,505.5L633.3,509.8L629.3,512.7L625.3,514.7Z"/>
<path fill="#77ff25" d="M381.3,514.8L377.3,515.3L371.3,514.7L367.3,513.5L361.3,510.1L357.3,506.5L354.4,502.7L351.5,496.7L350.1,490.7L350.0,484.7L350.7,480.7L352.9,474.7L355.3,470.6L359.3,466.1L363.3,463.1L367.3,461.1L373.3,459.5L379.3,459.4L383.3,460.2L387.3,461.7L392.0,464.7L396.1,468.7L398.9,472.7L400.8,476.7L402.4,482.7L402.7,488.7L402.3,492.7L400.5,498.7L398.4,502.7L395.4,506.7L391.3,510.4L385.3,513.7L381.3,514.8ZM619.3,515.0L615.3,515.3L609.3,514.4L603.3,511.9L599.3,509.0L595.4,504.7L592.9,500.7L590.6,494.7L589.8,490.7L589.8,484.7L590.4,480.7L592.5,474.7L595.3,470.0L599.3,465.6L603.3,462.7L607.3,460.8L613.3,459.4L619.3,459.6L623.3,460.5L629.3,463.3L633.3,466.3L637.2,470.7L639.5,474.7L641.1,478.7L642.4,484.7L642.3,490.7L641.5,494.7L639.1,500.7L636.6,504.7L633.3,508.3L629.3,511.3L625.3,513.4L619.3,515.0Z"/>
<path fill="#91ff21" d="M383.3,512.9L379.3,513.8L373.3,513.8L367.3,512.2L363.3,510.2L359.3,507.1L355.6,502.7L351.8,494.7L350.9,488.7L351.0,484.7L352.2,478.7L353.9,474.7L357.3,469.6L361.3,465.8L365.3,463.3L371.3,461.1L377.3,460.6L381.3,461.1L385.3,462.4L389.3,464.5L393.3,467.8L395.8,470.7L398.2,474.7L400.4,480.7L401.1,484.7L401.0,490.7L400.2,494.7L397.8,500.7L395.2,504.7L391.3,508.6L387.3,511.3L383.3,512.9ZM623.3,512.9L619.3,513.8L613.3,513.8L609.3,513.0L604.1,510.7L601.2,508.7L597.2,504.7L594.6,500.7L592.2,494.7L591.4,490.7L591.4,484.7L592.5,478.7L594.2,474.7L596.6,470.7L600.3,466.7L605.3,463.2L609.3,461.6L613.3,460.8L619.3,460.8L623.3,461.7L629.3,464.6L633.3,467.7L636.0,470.7L638.5,474.7L640.8,480.7L641.6,486.7L641.3,490.7L639.9,496.7L638.1,500.7L635.3,504.7L631.3,508.6L627.3,511.2L623.3,512.9Z"/>
<path fill="#adff1f" d="M377.3,512.8L371.3,512.3L367.3,511.1L363.3,509.0L359.3,505.8L356.7,502.7L354.3,498.7L352.7,494.7L351.7,488.7L352.1,482.7L353.1,478.7L354.9,474.7L357.6,470.7L361.3,467.1L365.3,464.5L371.3,462.3L375.3,461.8L379.3,462.0L385.3,463.8L389.3,466.1L392.3,468.7L395.6,472.7L397.7,476.7L399.0,480.7L399.8,486.7L399.6,490.7L398.2,496.7L396.3,500.7L393.4,504.7L389.3,508.5L385.3,510.8L381.3,512.2L377.3,512.8ZM617.3,512.8L613.3,512.6L609.3,511.7L605.3,509.9L600.9,506.7L597.4,502.7L595.1,498.7L593.6,494.7L592.6,488.7L592.7,484.7L593.9,478.7L595.7,474.7L598.3,470.7L601.3,467.5L605.3,464.7L609.3,462.9L615.3,461.8L619.3,462.0L625.3,463.6L629.3,465.7L633.3,469.1L636.3,472.7L638.5,476.7L639.9,480.7L640.7,486.7L640.2,492.7L639.0,496.7L637.0,500.7L634.1,504.7L631.3,507.4L627.3,510.1L623.3,511.8L617.3,512.8Z"/>
<path fill="#cbff23" d="M381.3,511.0L377.3,511.7L371.3,511.3L367.3,510.0L363.3,507.9L359.3,504.5L356.3,500.7L354.3,496.7L353.0,492.7L352.5,488.7L352.9,482.7L353.9,478.7L355.8,474.7L359.3,470.1L363.3,466.7L367.3,464.6L371.3,463.3L377.3,462.9L381.3,463.5L385.3,465.0L389.3,467.5L392.6,470.7L395.4,474.7L398.3,482.7L398.6,488.7L398.1,492.7L396.9,496.7L394.9,500.7L391.9,504.7L389.3,507.0L385.3,509.6L381.3,511.0ZM621.3,511.2L615.3,511.7L611.3,511.1L607.3,509.7L603.3,507.2L600.5,504.7L597.5,500.7L595.5,496.7L593.9,490.7L593.9,484.7L594.6,480.7L596.0,476.7L598.2,472.7L601.3,469.1L605.3,466.0L609.3,464.1L613.3,463.1L617.3,462.9L621.3,463.4L625.3,464.7L629.3,466.9L633.3,470.3L636.6,474.7L638.5,478.7L639.5,482.7L639.9,488.7L639.4,492.7L638.1,496.7L636.1,500.7L633.3,504.3L629.3,507.8L625.3,510.0L621.3,511.2Z"/>
<path fill="#e8ff26" d="M375.3,510.7L371.3,510.3L367.3,509.1L363.3,506.8L359.3,503.3L356.0,498.7L354.3,494.7L353.2,486.7L353.6,482.7L354.7,478.7L356.7,474.7L359.8,470.7L363.3,467.7L367.3,465.5L371.3,464.3L375.3,463.8L379.3,464.1L383.3,465.3L387.3,467.4L391.2,470.7L394.2,474.7L396.1,478.7L397.6,486.7L397.0,492.7L395.8,496.7L393.7,500.7L391.3,503.8L387.3,507.2L383.3,509.3L379.3,510.4L375.3,510.7ZM617.3,510.7L613.3,510.5L609.3,509.4L605.3,507.3L601.3,504.0L598.7,500.7L596.6,496.7L595.0,490.7L594.8,486.7L596.3,478.7L598.2,474.7L601.3,470.6L605.3,467.3L609.3,465.2L613.3,464.1L617.3,463.8L621.3,464.3L625.3,465.6L629.3,467.9L632.6,470.7L635.7,474.7L637.6,478.7L638.8,482.7L639.2,486.7L638.1,494.7L636.4,498.7L633.3,503.1L629.3,506.7L625.3,509.0L621.3,510.3L617.3,510.7Z"/>
<path fill="#fff826" d="M381.3,509.0L377.3,509.8L373.3,509.8L369.3,508.9L365.3,507.2L361.3,504.3L358.1,500.7L355.8,496.7L354.5,492.7L353.9,488.7L354.3,482.7L355.5,478.7L357.6,474.7L360.9,470.7L363.3,468.7L367.3,466.4L371.3,465.2L375.3,464.8L379.3,465.1L383.3,466.3L387.3,468.6L389.8,470.7L393.0,474.7L395.1,478.7L396.2,482.7L396.4,490.7L395.5,494.7L393.8,498.7L389.0,504.7L385.3,507.3L381.3,509.0ZM623.3,508.8L619.3,509.7L615.3,509.8L611.3,509.1L607.3,507.4L603.3,504.6L599.9,500.7L597.7,496.7L596.3,492.7L595.9,484.7L596.7,480.7L598.2,476.7L600.8,472.7L603.3,470.0L607.3,467.2L611.3,465.5L615.3,464.8L619.3,464.9L623.3,465.7L627.3,467.5L633.3,472.7L636.0,476.7L637.6,480.7L638.4,484.7L638.5,488.7L637.9,492.7L636.6,496.7L634.3,500.7L631.3,504.1L627.3,507.1L623.3,508.8Z"/>
<path fill="#ffdb1c" d="M377.3,508.9L373.3,508.9L369.3,508.1L365.3,506.3L361.3,503.3L359.0,500.7L356.6,496.7L355.2,492.7L354.5,488.7L354.6,484.7L355.5,480.7L357.2,476.7L359.3,473.5L362.0,470.7L365.3,468.3L369.3,466.5L373.3,465.7L377.3,465.6L381.3,466.5L385.3,468.3L388.5,470.7L393.2,476.7L394.8,480.7L395.7,484.7L395.8,488.7L395.1,492.7L393.8,496.7L391.4,500.7L389.3,503.2L385.3,506.3L381.3,508.1L377.3,508.9ZM619.3,508.9L615.3,508.9L611.3,508.2L607.3,506.4L603.3,503.4L601.0,500.7L598.6,496.7L596.6,488.7L596.7,484.7L597.6,480.7L599.2,476.7L601.9,472.7L607.3,468.2L611.3,466.4L615.3,465.6L619.3,465.7L623.3,466.6L627.3,468.4L630.4,470.7L635.2,476.7L636.9,480.7L637.8,484.7L637.9,488.7L637.2,492.7L635.8,496.7L633.4,500.7L631.3,503.1L627.3,506.2L623.3,508.0L619.3,508.9Z"/>
<path fill="#ffbf12" d="M381.3,507.3L377.3,508.2L373.3,508.2L369.3,507.3L365.3,505.5L361.7,502.7L359.3,500.0L357.3,496.7L355.8,492.7L355.2,488.7L355.3,484.7L356.1,480.7L357.9,476.7L360.9,472.7L363.3,470.5L369.3,467.3L373.3,466.4L377.3,466.5L383.3,468.2L389.4,472.7L392.3,476.7L394.0,480.7L394.9,484.7L395.0,488.7L394.4,492.7L392.9,496.7L388.6,502.7L385.3,505.4L381.3,507.3ZM623.3,507.3L619.3,508.2L615.3,508.2L611.3,507.3L607.3,505.5L602.0,500.7L599.5,496.7L598.0,492.7L597.5,484.7L598.4,480.7L600.1,476.7L605.1,470.7L611.3,467.3L617.3,466.3L621.3,466.8L625.3,468.1L631.5,472.7L634.5,476.7L636.3,480.7L637.1,484.7L637.2,488.7L636.6,492.7L635.1,496.7L630.7,502.7L627.3,505.4L623.3,507.3Z"/>
<path fill="#ffa208" d="M379.3,507.1L375.3,507.6L371.3,507.1L367.3,505.8L363.3,503.3L360.6,500.7L357.9,496.7L355.9,490.7L355.7,486.7L356.2,482.7L358.6,476.7L363.3,471.3L367.3,468.8L371.3,467.4L375.3,467.1L379.3,467.5L385.3,470.1L390.1,474.7L392.5,478.7L393.8,482.7L394.3,486.7L394.0,490.7L393.0,494.7L391.0,498.7L387.5,502.7L385.3,504.5L379.3,507.1ZM621.3,507.1L617.3,507.6L613.3,507.1L607.3,504.6L604.8,502.7L601.5,498.7L599.4,494.7L598.4,490.7L598.1,486.7L598.6,482.7L600.9,476.7L603.3,473.5L606.3,470.7L609.3,468.9L613.3,467.5L617.3,467.1L621.3,467.5L627.3,470.0L632.5,474.7L634.9,478.7L636.2,482.7L636.7,486.7L636.5,490.7L635.3,494.7L633.3,498.7L631.3,501.3L627.3,504.6L621.3,507.1Z"/>
<path fill="#ff8100" d="M377.3,506.7L373.3,506.8L369.3,505.9L363.3,502.5L358.5,496.7L356.9,492.7L356.2,488.7L356.3,484.7L357.3,480.7L360.7,474.7L363.3,472.0L367.3,469.5L373.3,467.8L377.3,467.8L381.3,468.9L387.3,472.6L391.7,478.7L393.4,484.7L393.6,488.7L392.9,492.7L390.2,498.7L385.3,503.6L381.3,505.8L377.3,506.7ZM619.3,506.7L615.3,506.7L611.3,505.8L605.3,502.2L601.1,496.7L599.5,492.7L598.8,488.7L598.9,484.7L599.9,480.7L603.2,474.7L605.3,472.4L609.3,469.6L615.3,467.8L619.3,467.8L623.3,468.8L629.3,472.2L631.7,474.7L634.3,478.7L636.0,484.7L636.2,488.7L635.4,492.7L632.6,498.7L627.3,503.9L623.3,505.9L619.3,506.7Z"/>
<path fill="#ff5600" d="M381.3,505.0L377.3,506.1L373.3,506.2L367.3,504.5L363.3,501.8L361.3,499.8L359.2,496.7L357.5,492.7L356.7,486.7L357.3,482.7L358.7,478.7L363.3,472.8L369.3,469.3L373.3,468.4L377.3,468.5L383.3,470.5L388.4,474.7L391.9,480.7L392.8,484.7L393.0,488.7L391.6,494.7L389.4,498.7L387.3,501.1L381.3,505.0ZM623.3,505.2L619.3,506.2L615.3,506.1L609.3,504.2L605.3,501.3L603.3,499.0L600.1,492.7L599.5,488.7L599.6,484.7L601.4,478.7L605.3,473.3L611.3,469.5L617.3,468.4L621.3,468.8L625.3,470.2L631.0,474.7L634.5,480.7L635.7,486.7L635.4,490.7L634.2,494.7L632.0,498.7L629.3,501.7L623.3,505.2Z"/>
<path fill="#ff2a00" d="M379.3,505.1L375.3,505.7L371.3,505.3L365.3,502.7L362.9,500.7L359.7,496.7L357.5,490.7L357.2,486.7L357.8,482.7L360.5,476.7L365.3,471.9L371.3,469.3L377.3,469.1L383.3,471.2L387.3,474.3L389.2,476.7L391.9,482.7L392.4,486.7L392.1,490.7L390.0,496.7L385.3,502.1L379.3,505.1ZM621.3,505.2L617.3,505.7L613.3,505.1L607.3,502.2L602.4,496.7L600.2,490.7L600.0,486.7L600.5,482.7L603.2,476.7L607.3,472.4L613.3,469.4L617.3,468.9L621.3,469.4L627.3,472.0L631.9,476.7L634.7,482.7L635.2,486.7L634.9,490.7L632.7,496.7L629.5,500.7L627.3,502.5L621.3,505.2Z"/>
<path fill="#ff0000" d="M377.3,504.9L373.3,505.0L369.3,504.2L363.6,500.7L361.3,498.2L359.2,494.7L357.7,488.7L358.2,482.7L361.3,476.4L363.3,474.2L367.3,471.3L373.3,469.5L379.3,470.1L385.3,473.2L389.8,478.7L391.7,484.7L391.9,488.7L391.1,492.7L387.9,498.7L383.3,502.7L377.3,504.9ZM619.3,505.0L613.3,504.5L607.3,501.5L604.5,498.7L602.0,494.7L600.5,488.7L601.1,482.7L603.9,476.7L609.3,471.7L615.3,469.6L621.3,469.9L627.3,472.7L629.6,474.7L632.6,478.7L634.6,484.7L634.7,488.7L633.9,492.7L630.7,498.7L625.3,503.2L619.3,505.0Z"/>
<path fill="#ff0000" d="M381.3,503.2L377.3,504.4L373.3,504.5L367.3,502.7L362.3,498.7L358.9,492.7L358.1,488.7L358.2,484.7L360.3,478.7L363.4,474.7L369.3,471.0L375.3,470.0L381.3,471.4L386.1,474.7L387.9,476.7L390.1,480.7L391.2,484.7L391.3,488.7L389.8,494.7L387.3,498.6L385.3,500.7L381.3,503.2ZM623.3,503.6L617.3,504.6L611.3,503.3L607.3,500.8L605.3,498.9L601.8,492.7L601.0,486.7L602.3,480.7L604.5,476.7L606.3,474.7L611.3,471.3L617.3,470.0L623.3,471.1L627.3,473.3L629.3,475.0L633.0,480.7L634.1,484.7L634.3,488.7L632.7,494.7L629.3,499.6L627.3,501.4L623.3,503.6Z"/>
</g>
<clipPath id="k0"><path clip-rule="evenodd" d="M-3000,-3000H3000V3000H-3000ZM27.14,-6.32H36.44V1.60H27.14ZM43.03,-6.32H51.68V1.60H43.03Z"/></clipPath><clipPath id="k1"><path clip-rule="evenodd" d="M-3000,-3000H3000V3000H-3000ZM1.55,-6.87H11.95V1.60H1.55ZM19.28,-6.87H28.95V1.60H19.28Z"/></clipPath><clipPath id="k2"><path clip-rule="evenodd" d="M-3000,-3000H3000V3000H-3000ZM27.14,-6.32H36.44V1.60H27.14ZM43.03,-6.32H51.68V1.60H43.03Z"/></clipPath><clipPath id="k3"><path clip-rule="evenodd" d="M-3000,-3000H3000V3000H-3000ZM1.55,-6.87H11.95V1.60H1.55ZM19.28,-6.87H28.95V1.60H19.28Z"/></clipPath><clipPath id="k4"><path clip-rule="evenodd" d="M-3000,-3000H3000V3000H-3000ZM-15.07,-3.78H-9.02V1.60H-15.07ZM-6.20,-3.78H-0.33V1.60H-6.20Z"/></clipPath><clipPath id="k5"><path clip-rule="evenodd" d="M-3000,-3000H3000V3000H-3000ZM-39.42,-3.78H-33.37V1.60H-39.42ZM-30.55,-3.78H-24.68V1.60H-30.55Z"/></clipPath><clipPath id="k6"><path clip-rule="evenodd" d="M-3000,-3000H3000V3000H-3000ZM1.29,-5.99H9.92V1.60H1.29ZM16.06,-5.99H24.08V1.60H16.06Z"/></clipPath><clipPath id="k7"><path clip-rule="evenodd" d="M-3000,-3000H3000V3000H-3000ZM-15.07,-3.78H-9.02V1.60H-15.07ZM-6.20,-3.78H-0.33V1.60H-6.20Z"/></clipPath><clipPath id="k8"><path clip-rule="evenodd" d="M-3000,-3000H3000V3000H-3000ZM-15.07,-3.78H-9.02V1.60H-15.07ZM-6.20,-3.78H-0.33V1.60H-6.20ZM1.17,-3.78H7.22V1.60H1.17ZM10.04,-3.78H15.91V1.60H10.04Z"/></clipPath><clipPath id="k9"><path clip-rule="evenodd" d="M-3000,-3000H3000V3000H-3000ZM-15.07,-3.78H-9.02V1.60H-15.07ZM-6.20,-3.78H-0.33V1.60H-6.20Z"/></clipPath><clipPath id="k10"><path clip-rule="evenodd" d="M-3000,-3000H3000V3000H-3000ZM-15.07,-3.78H-9.02V1.60H-15.07ZM-6.20,-3.78H-0.33V1.60H-6.20Z"/></clipPath><clipPath id="k11"><path clip-rule="evenodd" d="M-3000,-3000H3000V3000H-3000ZM-15.07,-3.78H-9.02V1.60H-15.07ZM-6.20,-3.78H-0.33V1.60H-6.20Z"/></clipPath><clipPath id="k12"><path clip-rule="evenodd" d="M-3000,-3000H3000V3000H-3000ZM-15.07,-3.78H-9.02V1.60H-15.07ZM-6.20,-3.78H-0.33V1.60H-6.20Z"/></clipPath><clipPath id="k13"><path clip-rule="evenodd" d="M-3000,-3000H3000V3000H-3000ZM-15.07,-3.78H-9.02V1.60H-15.07ZM-6.20,-3.78H-0.33V1.60H-6.20Z"/></clipPath><clipPath id="k14"><path clip-rule="evenodd" d="M-3000,-3000H3000V3000H-3000ZM-15.07,-3.78H-9.02V1.60H-15.07ZM-6.20,-3.78H-0.33V1.60H-6.20Z"/></clipPath><clipPath id="k15"><path clip-rule="evenodd" d="M-3000,-3000H3000V3000H-3000ZM-15.07,-3.78H-9.02V1.60H-15.07ZM-6.20,-3.78H-0.33V1.60H-6.20Z"/></clipPath><clipPath id="k16"><path clip-rule="evenodd" d="M-3000,-3000H3000V3000H-3000ZM-15.07,-3.78H-9.02V1.60H-15.07ZM-6.20,-3.78H-0.33V1.60H-6.20Z"/></clipPath><clipPath id="k17"><path clip-rule="evenodd" d="M-3000,-3000H3000V3000H-3000ZM-39.42,-3.78H-33.37V1.60H-39.42ZM-30.55,-3.78H-24.68V1.60H-30.55Z"/></clipPath><clipPath id="k18"><path clip-rule="evenodd" d="M-3000,-3000H3000V3000H-3000ZM-39.42,-3.78H-33.37V1.60H-39.42ZM-30.55,-3.78H-24.68V1.60H-30.55Z"/></clipPath><clipPath id="k19"><path clip-rule="evenodd" d="M-3000,-3000H3000V3000H-3000ZM-26.41,5.61H-21.46V10.60H-26.41ZM-19.10,5.61H-14.29V10.60H-19.10Z"/></clipPath><clipPath id="k20"><path clip-rule="evenodd" d="M-3000,-3000H3000V3000H-3000ZM-15.48,-3.84H-9.26V1.60H-15.48ZM-6.37,-3.84H-0.33V1.60H-6.37Z"/></clipPath><clipPath id="k21"><path clip-rule="evenodd" d="M-3000,-3000H3000V3000H-3000ZM-15.48,-3.84H-9.26V1.60H-15.48ZM-6.37,-3.84H-0.33V1.60H-6.37Z"/></clipPath><clipPath id="k22"><path clip-rule="evenodd" d="M-3000,-3000H3000V3000H-3000ZM98.45,-5.99H107.08V1.60H98.45ZM113.22,-5.99H121.24V1.60H113.22Z"/></clipPath></defs>
<rect width="2125" height="1648" fill="#fff"/>
<!-- panel a : 2D field map -->
<use href="#hm"/>
<line x1="370" y1="487.3" x2="622" y2="487.3" stroke="#0c8a0c" stroke-width="6" stroke-linecap="round"/>
<rect x="476" y="481.6" width="42" height="11.4" rx="2.5" fill="#1f8a1f"/>
<rect x="485.4" y="483.6" width="20.6" height="7.4" fill="#ff9a5a"/>
<line x1="493.3" y1="474" x2="493.3" y2="284" stroke="#000" stroke-width="4.2" stroke-dasharray="16.4 12.74"/>
<polygon fill="#000" points="493.3,262.8 505.6,286.4 481.0,286.4"/>
<text transform="translate(470.74 239.70) scale(1.0336 1)" font-size="47.3" font-weight="bold" fill="#000" text-anchor="start">Z</text>
<line x1="385.4" y1="518.2" x2="600.6" y2="518.2" stroke="#000" stroke-width="4.5"/><polygon fill="#000" points="620.0,518.2 595.7,530.4 595.7,506.0"/><polygon fill="#000" points="366.0,518.2 390.3,506.0 390.3,530.4"/>
<text transform="translate(425.85 586.60) scale(0.9863 1)" font-size="46.3" font-weight="bold" fill="#000" text-anchor="start" clip-path="url(#k0)">318 mm</text>
<polyline fill="none" stroke="#000" stroke-width="4.4" points="156.6,745 156.6,843.8 248,843.8"/>
<polygon fill="#000" points="156.6,723.3 169.0,747.7 144.2,747.7"/>
<polygon fill="#000" points="270.1,843.8 245.6,856.2 245.6,831.4"/>
<text transform="translate(140.12 700.30) scale(1.0528 1)" font-size="47.3" font-weight="bold" fill="#000" text-anchor="start">Z</text>
<text transform="translate(293.38 856.30)" font-size="47.3" font-weight="bold" fill="#000" text-anchor="start">X</text>
<rect x="922.6" y="188.4" width="41" height="249.2" fill="url(#cbar)"/><text transform="translate(918.91 139.90) scale(0.9359 1)" font-size="52.5" font-weight="bold" fill="#000" text-anchor="start">H (A.U.)</text><text transform="translate(984.10 226.40) scale(0.9500 1)" font-size="51.7" font-weight="bold" fill="#000" text-anchor="start" clip-path="url(#k1)">1</text><text transform="translate(986.38 440.90) scale(0.9431 1)" font-size="51.5" font-weight="bold" fill="#000" text-anchor="start">0</text>
<!-- panel a : 3D view -->
<g transform="matrix(0.72880 0.42004 0 0.84464 1168.515 -94.978)"><use href="#hm"/></g>
<polygon points="1243.8,28.4 1816.2,358.3 1816.2,1020.5 1243.8,690.6" fill="#20204a" opacity="0.08"/>
<linearGradient id="cw1" gradientUnits="userSpaceOnUse" x1="1451.5" y1="465.2" x2="1535.5" y2="413.4"><stop offset="0" stop-color="#30cc5c"/><stop offset="0.25" stop-color="#2cbc8e"/><stop offset="0.6" stop-color="#289caa"/><stop offset="1" stop-color="#257c9f"/></linearGradient><line x1="1451.5" y1="465.2" x2="1535.5" y2="413.4" stroke="url(#cw1)" stroke-width="7.3" stroke-linecap="square"/>
<linearGradient id="cw2" gradientUnits="userSpaceOnUse" x1="1535.5" y1="413.4" x2="1720.3" y2="521.1"><stop offset="0" stop-color="#257c9f"/><stop offset="0.5" stop-color="#2668a2"/><stop offset="1" stop-color="#28589f"/></linearGradient><line x1="1535.5" y1="413.4" x2="1720.3" y2="521.1" stroke="url(#cw2)" stroke-width="7.3" stroke-linecap="square"/>
<linearGradient id="cw3" gradientUnits="userSpaceOnUse" x1="1720.3" y1="521.1" x2="1631.2" y2="571.4"><stop offset="0" stop-color="#28589f"/><stop offset="0.4" stop-color="#2880ad"/><stop offset="0.75" stop-color="#2cb4a0"/><stop offset="1" stop-color="#34cc60"/></linearGradient><line x1="1720.3" y1="521.1" x2="1631.2" y2="571.4" stroke="url(#cw3)" stroke-width="7.3" stroke-linecap="butt"/>
<path fill="none" stroke="#0e8c10" stroke-width="7.3" stroke-linejoin="miter" stroke-linecap="round" d="M1440.0,472.3L1337.3,527.2L1422.0,575.7L1405.8,583.2M1428.8,596.6L1444.0,588.3L1523.3,633.6L1619.0,578.3"/>
<line x1="1405.8" y1="583.2" x2="1428.8" y2="596.6" stroke="#f07f3c" stroke-width="7"/>
<path d="M1399.6,579.7l6.2,-3.4l6.2,3.4v7l-6.2,3.4l-6.2,-3.4z" fill="#128a14" stroke="#0a5c0c" stroke-width="1.2"/>
<path d="M1422.6,593.1l6.2,-3.4l6.2,3.4v7l-6.2,3.4l-6.2,-3.4z" fill="#128a14" stroke="#0a5c0c" stroke-width="1.2"/>
<line x1="1322.9" y1="499.0" x2="1489.2" y2="393.9" stroke="#000" stroke-width="4.4"/><polygon fill="#000" points="1505.4,383.6 1491.5,406.6 1478.7,386.3"/><polygon fill="#000" points="1306.7,509.3 1320.6,486.3 1333.4,506.6"/>
<line x1="1571.1" y1="400.9" x2="1731.0" y2="492.0" stroke="#000" stroke-width="4.4"/><polygon fill="#000" points="1747.7,501.5 1720.9,500.0 1732.8,479.2"/><polygon fill="#000" points="1554.4,391.4 1581.2,392.9 1569.3,413.7"/>
<text transform="translate(1283.05 390.20) scale(0.9874 1)" font-size="46.3" font-weight="bold" fill="#000" text-anchor="start">338 mm</text>
<text transform="translate(1609.65 395.10) scale(0.9857 1)" font-size="46.3" font-weight="bold" fill="#000" text-anchor="start" clip-path="url(#k2)">318 mm</text>
<line x1="1641.3" y1="855" x2="1641.3" y2="756" stroke="#000" stroke-width="4.4"/>
<polygon fill="#000" points="1641.3,734.7 1653.3,758.4 1629.3,758.4"/>
<line x1="1641.3" y1="853.6" x2="1726.6" y2="806.6" stroke="#000" stroke-width="4.4"/><polygon fill="#000" points="1743.4,797.3 1728.2,819.4 1716.6,798.4"/>
<line x1="1641.3" y1="853.6" x2="1727.2" y2="908.3" stroke="#000" stroke-width="4.4"/><polygon fill="#000" points="1743.4,918.6 1716.7,915.8 1729.6,895.6"/>
<text transform="translate(1620.34 714.80) scale(1.0336 1)" font-size="47.3" font-weight="bold" fill="#000" text-anchor="start">Z</text>
<text transform="translate(1752.78 805.00) scale(1.0141 1)" font-size="47.3" font-weight="bold" fill="#000" text-anchor="start">Y</text>
<text transform="translate(1761.59 942.20) scale(0.9766 1)" font-size="47.3" font-weight="bold" fill="#000" text-anchor="start">X</text>
<rect x="1873.9" y="188.4" width="41" height="249.2" fill="url(#cbar)"/><text transform="translate(1870.21 139.90) scale(0.9359 1)" font-size="52.5" font-weight="bold" fill="#000" text-anchor="start">H (A.U.)</text><text transform="translate(1935.40 226.40) scale(0.9500 1)" font-size="51.7" font-weight="bold" fill="#000" text-anchor="start" clip-path="url(#k3)">1</text><text transform="translate(1937.68 440.90) scale(0.9431 1)" font-size="51.5" font-weight="bold" fill="#000" text-anchor="start">0</text>
<text transform="translate(29.66 27.40) scale(0.8936 1)" font-size="51.0" font-weight="bold" fill="#000" text-anchor="start">a</text>
<text transform="translate(-2.89 1049.00) scale(1.0489 1)" font-size="49.0" font-weight="bold" fill="#000" text-anchor="start">b</text>
<text transform="translate(703.00 1051.30) scale(1.0354 1)" font-size="49.5" font-weight="bold" fill="#000" text-anchor="start">c</text>
<text transform="translate(1436.32 1052.00) scale(1.0368 1)" font-size="49.0" font-weight="bold" fill="#000" text-anchor="start">d</text>
<!-- panel b -->
<rect x="104.2" y="1105.6" width="530.1" height="427.2" fill="none" stroke="#000" stroke-width="3.4"/>
<path d="M170.5,1532.8L170.5,1522.5M170.5,1105.6L170.5,1115.9M236.7,1532.8L236.7,1517.3M236.7,1105.6L236.7,1121.1M303.0,1532.8L303.0,1522.5M303.0,1105.6L303.0,1115.9M369.2,1532.8L369.2,1517.3M369.2,1105.6L369.2,1121.1M435.5,1532.8L435.5,1522.5M435.5,1105.6L435.5,1115.9M501.8,1532.8L501.8,1517.3M501.8,1105.6L501.8,1121.1M568.0,1532.8L568.0,1522.5M568.0,1105.6L568.0,1115.9M104.2,1484.0L114.5,1484.0M634.3,1484.0L624.0,1484.0M104.2,1435.2L119.7,1435.2M634.3,1435.2L618.8,1435.2M104.2,1386.4L114.5,1386.4M634.3,1386.4L624.0,1386.4M104.2,1337.6L119.7,1337.6M634.3,1337.6L618.8,1337.6M104.2,1288.8L114.5,1288.8M634.3,1288.8L624.0,1288.8M104.2,1240.0L119.7,1240.0M634.3,1240.0L618.8,1240.0M104.2,1191.2L114.5,1191.2M634.3,1191.2L624.0,1191.2M104.2,1142.4L119.7,1142.4M634.3,1142.4L618.8,1142.4" stroke="#000" stroke-width="3.4" fill="none"/>
<text transform="translate(104.20 1571.80)" font-size="29.2" font-weight="normal" fill="#000" text-anchor="middle">0</text>
<text transform="translate(236.72 1571.80)" font-size="29.2" font-weight="normal" fill="#000" text-anchor="middle" clip-path="url(#k4)">10</text>
<text transform="translate(369.25 1571.80)" font-size="29.2" font-weight="normal" fill="#000" text-anchor="middle">20</text>
<text transform="translate(501.77 1571.80)" font-size="29.2" font-weight="normal" fill="#000" text-anchor="middle">30</text>
<text transform="translate(634.30 1571.80)" font-size="29.2" font-weight="normal" fill="#000" text-anchor="middle">40</text>
<text transform="translate(85.80 1541.60)" font-size="29.2" font-weight="normal" fill="#000" text-anchor="end">0.0</text>
<text transform="translate(85.80 1444.00)" font-size="29.2" font-weight="normal" fill="#000" text-anchor="end">0.8</text>
<text transform="translate(85.80 1346.40)" font-size="29.2" font-weight="normal" fill="#000" text-anchor="end" clip-path="url(#k5)">1.6</text>
<text transform="translate(85.80 1248.80)" font-size="29.2" font-weight="normal" fill="#000" text-anchor="end">2.4</text>
<text transform="translate(85.80 1151.20)" font-size="29.2" font-weight="normal" fill="#000" text-anchor="end">3.2</text>
<text transform="translate(31.70 1318.50) rotate(-90) scale(0.9850 1)" font-size="37.0" font-weight="normal" fill="#000" text-anchor="middle">H (A/m)</text>
<text transform="translate(316.33 1627.70) scale(0.9864 1)" font-size="37.3" font-weight="normal" fill="#000" text-anchor="start">Z (cm)</text>
<rect x="300" y="1631.6" width="140" height="17" fill="#fff"/>
<path d="M104.2,1396.0C106.0,1396.2 110.9,1396.0 118.0,1397.2C125.1,1398.4 146.8,1401.9 157.3,1405.0C167.8,1408.1 186.1,1416.3 196.6,1420.8C207.1,1425.3 225.4,1433.5 235.9,1438.5C246.4,1443.5 264.8,1453.2 275.3,1458.1C285.8,1463.0 304.1,1471.3 314.6,1475.0C325.1,1478.7 343.4,1483.0 353.9,1485.6C364.4,1488.2 382.7,1492.5 393.2,1494.7C403.7,1496.9 422.1,1500.5 432.6,1502.2C443.1,1503.9 461.4,1506.1 471.9,1507.3C482.4,1508.5 500.7,1510.3 511.2,1511.2C521.7,1512.1 540.0,1513.6 550.5,1514.4C561.0,1515.2 578.8,1516.5 589.9,1517.1C601.0,1517.7 628.1,1518.8 634.0,1519.1" fill="none" stroke="#0808e0" stroke-width="5.3" stroke-linejoin="round"/>
<path d="M104.2,1259.5C106.0,1259.7 110.9,1258.2 118.0,1260.7C125.1,1263.2 146.8,1271.7 157.3,1278.4C167.8,1285.1 186.1,1301.7 196.6,1310.7C207.1,1319.7 225.4,1336.3 235.9,1346.0C246.4,1355.7 264.8,1374.2 275.3,1383.4C285.8,1392.6 304.1,1407.6 314.6,1414.9C325.1,1422.2 343.4,1432.7 353.9,1438.5C364.4,1444.3 382.7,1454.1 393.2,1458.6C403.7,1463.1 422.1,1469.2 432.6,1472.4C443.1,1475.6 461.4,1480.3 471.9,1482.8C482.4,1485.3 500.7,1489.1 511.2,1491.0C521.7,1492.9 540.0,1495.8 550.5,1497.3C561.0,1498.8 578.8,1500.8 589.9,1501.9C601.0,1503.0 628.1,1504.8 634.0,1505.3" fill="none" stroke="#e8121c" stroke-width="5.3" stroke-linejoin="round"/>
<path d="M104.2,1146.7C106.0,1147.0 110.9,1145.1 118.0,1148.6C125.1,1152.1 146.8,1163.7 157.3,1173.0C167.8,1182.3 186.1,1205.1 196.6,1218.2C207.1,1231.3 225.4,1257.5 235.9,1271.3C246.4,1285.1 264.8,1308.8 275.3,1321.7C285.8,1334.6 304.1,1357.4 314.6,1367.7C325.1,1378.0 343.4,1391.2 353.9,1399.1C364.4,1407.0 382.7,1420.4 393.2,1426.7C403.7,1433.0 422.1,1441.7 432.6,1446.3C443.1,1450.9 461.4,1457.5 471.9,1460.9C482.4,1464.3 500.7,1469.1 511.2,1471.9C521.7,1474.7 540.0,1479.4 550.5,1481.7C561.0,1484.0 578.8,1487.1 589.9,1488.8C601.0,1490.5 628.1,1493.9 634.0,1494.7" fill="none" stroke="#f5841f" stroke-width="5.3" stroke-linejoin="round"/>
<text transform="translate(411.70 1179.70) scale(0.9860 1)" font-size="43.0" font-weight="bold" fill="#f5841f" text-anchor="start">P<tspan font-size="28.0" dy="9.9">in</tspan><tspan dy="-9.9"> = 8W</tspan></text>
<text transform="translate(515.58 1229.60) scale(0.9466 1)" font-size="43.0" font-weight="bold" fill="#e8121c" text-anchor="start">4W</text>
<text transform="translate(515.85 1279.30) scale(0.9425 1)" font-size="43.0" font-weight="bold" fill="#0808e0" text-anchor="start" clip-path="url(#k6)">1W</text>
<!-- panel c -->
<path d="M1313.2,1111.4L798.2,1111.4L798.2,1539.7L1313.2,1539.7" fill="none" stroke="#000" stroke-width="3.4" stroke-linecap="square"/>
<path d="M824.8,1539.7L824.8,1529.4M824.8,1111.4L824.8,1121.7M851.3,1539.7L851.3,1524.2M851.3,1111.4L851.3,1126.9M877.9,1539.7L877.9,1529.4M877.9,1111.4L877.9,1121.7M904.4,1539.7L904.4,1524.2M904.4,1111.4L904.4,1126.9M931.0,1539.7L931.0,1529.4M931.0,1111.4L931.0,1121.7M957.5,1539.7L957.5,1524.2M957.5,1111.4L957.5,1126.9M984.1,1539.7L984.1,1529.4M984.1,1111.4L984.1,1121.7M1010.6,1539.7L1010.6,1524.2M1010.6,1111.4L1010.6,1126.9M1037.2,1539.7L1037.2,1529.4M1037.2,1111.4L1037.2,1121.7M1063.7,1539.7L1063.7,1524.2M1063.7,1111.4L1063.7,1126.9M1090.2,1539.7L1090.2,1529.4M1090.2,1111.4L1090.2,1121.7M1116.8,1539.7L1116.8,1524.2M1116.8,1111.4L1116.8,1126.9M1143.4,1539.7L1143.4,1529.4M1143.4,1111.4L1143.4,1121.7M1169.9,1539.7L1169.9,1524.2M1169.9,1111.4L1169.9,1126.9M1196.5,1539.7L1196.5,1529.4M1196.5,1111.4L1196.5,1121.7M1223.0,1539.7L1223.0,1524.2M1223.0,1111.4L1223.0,1126.9M1249.6,1539.7L1249.6,1529.4M1249.6,1111.4L1249.6,1121.7M1276.1,1539.7L1276.1,1524.2M1276.1,1111.4L1276.1,1126.9M1302.7,1539.7L1302.7,1529.4M1302.7,1111.4L1302.7,1121.7M798.2,1150.4L808.5,1150.4M798.2,1189.3L813.7,1189.3M798.2,1228.2L808.5,1228.2M798.2,1267.2L813.7,1267.2M798.2,1306.2L808.5,1306.2M798.2,1345.1L813.7,1345.1M798.2,1384.1L808.5,1384.1M798.2,1423.0L813.7,1423.0M798.2,1462.0L808.5,1462.0M798.2,1500.9L813.7,1500.9" stroke="#000" stroke-width="3.4" fill="none"/>
<path d="M798.2,1131.7L800.9,1132.3L803.5,1133.0L806.2,1133.7L808.8,1134.5L811.5,1135.3L814.1,1136.1L816.8,1136.9L819.4,1137.8L822.1,1138.7L824.8,1139.7L827.4,1140.7L830.1,1141.7L832.7,1142.8L835.4,1144.0L838.0,1145.2L840.7,1146.5L843.3,1147.8L846.0,1149.2L848.6,1150.7L851.3,1152.2L854.0,1153.8L856.6,1155.5L859.3,1157.3L861.9,1159.2L864.6,1161.2L867.2,1163.3L869.9,1165.5L872.5,1167.9L875.2,1170.3L877.9,1173.0L880.5,1175.7L883.2,1178.7L885.8,1181.8L888.5,1185.1L891.1,1188.5L893.8,1192.2L896.4,1196.2L899.1,1200.3L901.7,1204.8L904.4,1209.5L907.1,1214.5L909.7,1219.8L912.4,1225.4L915.0,1231.5L917.7,1237.8L920.3,1244.6L923.0,1251.8L925.6,1259.5L928.3,1267.6L931.0,1276.2L933.6,1285.3L936.3,1294.9L938.9,1305.0L941.6,1315.6L944.2,1326.7L946.9,1338.2L949.5,1350.2L952.2,1362.6L954.8,1375.2L957.5,1388.1L960.2,1401.0L962.8,1413.8L965.5,1426.3L968.1,1438.4L970.8,1449.8L973.4,1460.3L976.1,1469.7L978.7,1477.7L981.4,1484.1L984.1,1488.9L986.7,1491.7L989.4,1492.7L992.0,1491.7L994.7,1488.9L997.3,1484.3L1000.0,1478.1L1002.6,1470.4L1005.3,1461.6L1007.9,1451.7L1010.6,1441.1L1013.3,1429.8L1015.9,1418.2L1018.6,1406.4L1021.2,1394.6L1023.9,1382.8L1026.5,1371.2L1029.2,1359.9L1031.8,1348.9L1034.5,1338.2L1037.2,1328.0L1039.8,1318.2L1042.5,1308.9L1045.1,1299.9L1047.8,1291.4L1050.4,1283.4L1053.1,1275.7L1055.7,1268.5L1058.4,1261.6L1061.0,1255.1L1063.7,1249.0L1066.4,1243.2L1069.0,1237.7L1071.7,1232.5L1074.3,1227.6L1077.0,1223.0L1079.6,1218.6L1082.3,1214.4L1084.9,1210.5L1087.6,1206.8L1090.2,1203.2L1092.9,1199.9L1095.6,1196.7L1098.2,1193.7L1100.9,1190.8L1103.5,1188.1L1106.2,1185.5L1108.8,1183.0L1111.5,1180.7L1114.1,1178.4L1116.8,1176.3L1119.5,1174.3L1122.1,1172.3L1124.8,1170.5L1127.4,1168.7L1130.1,1167.0L1132.7,1165.4L1135.4,1163.8L1138.0,1162.4L1140.7,1160.9L1143.4,1159.6L1146.0,1158.3L1148.7,1157.0L1151.3,1155.8L1154.0,1154.7L1156.6,1153.6L1159.3,1152.5L1161.9,1151.5L1164.6,1150.5L1167.2,1149.5L1169.9,1148.6L1172.6,1147.7L1175.2,1146.9L1177.9,1146.1L1180.5,1145.3L1183.2,1144.5L1185.8,1143.8L1188.5,1143.1L1191.1,1142.4L1193.8,1141.7L1196.5,1141.1L1199.1,1140.5L1201.8,1139.8L1204.4,1139.3L1207.1,1138.7L1209.7,1138.2L1212.4,1137.6L1215.0,1137.1L1217.7,1136.6L1220.3,1136.1L1223.0,1135.7L1225.7,1135.2L1228.3,1134.8L1231.0,1134.3L1233.6,1133.9L1236.3,1133.5L1238.9,1133.1L1241.6,1132.7L1244.2,1132.4L1246.9,1132.0L1249.6,1131.7L1252.2,1131.3L1254.9,1131.0L1257.5,1130.7L1260.2,1130.3L1262.8,1130.0L1265.5,1129.7L1268.1,1129.4L1270.8,1129.2L1273.4,1128.9L1276.1,1128.6L1278.8,1128.3L1281.4,1128.1L1284.1,1127.8L1286.7,1127.6L1289.4,1127.3L1292.0,1127.1L1294.7,1126.9L1297.3,1126.7L1300.0,1126.4L1302.7,1126.2L1305.3,1126.0L1308.0,1125.8L1310.6,1125.6L1313.3,1125.4L1315.9,1125.2L1318.6,1125.0L1321.2,1124.9L1323.9,1124.7L1326.5,1124.5L1329.2,1124.3" fill="none" stroke="#000" stroke-width="6.2" stroke-linejoin="round"/>
<path d="M798.2,1496.5C807.5,1480.4 842.1,1420.8 854.1,1400.1C866.1,1379.4 865.2,1380.7 870.1,1372.3C875.0,1363.9 879.0,1357.3 883.5,1349.6C888.0,1341.9 892.3,1334.0 896.8,1326.2C901.2,1318.4 905.8,1310.6 910.2,1302.8C914.7,1295.0 919.0,1287.3 923.5,1279.5C928.0,1271.7 933.5,1261.9 936.9,1256.1C940.2,1250.3 941.4,1248.5 943.6,1244.8C945.8,1241.1 948.0,1237.5 950.2,1234.1C952.4,1230.6 954.7,1227.2 956.9,1224.1C959.1,1221.0 961.4,1218.0 963.6,1215.4C965.8,1212.8 968.1,1210.7 970.3,1208.7C972.5,1206.7 974.7,1204.9 976.9,1203.4C979.1,1202.0 981.4,1200.8 983.6,1200.0C985.8,1199.2 988.5,1198.7 990.3,1198.4C992.1,1198.1 993.0,1198.0 994.3,1198.0C995.6,1198.0 996.8,1198.1 998.3,1198.4C999.8,1198.7 1001.6,1199.0 1003.6,1199.8C1005.6,1200.6 1008.1,1201.7 1010.3,1203.0C1012.5,1204.3 1014.8,1205.8 1017.0,1207.4C1019.2,1209.0 1021.5,1210.8 1023.7,1212.7C1025.9,1214.6 1028.2,1216.6 1030.4,1218.7C1032.6,1220.8 1034.8,1222.9 1037.0,1225.1C1039.2,1227.3 1041.5,1229.5 1043.7,1231.8C1045.9,1234.1 1048.2,1236.4 1050.4,1238.8C1052.6,1241.2 1054.9,1243.7 1057.1,1246.1C1059.3,1248.5 1060.9,1250.2 1063.7,1253.4C1066.5,1256.6 1069.8,1260.7 1073.7,1265.5C1077.6,1270.3 1082.8,1276.7 1087.3,1282.0C1091.8,1287.3 1096.5,1292.5 1101.0,1297.5C1105.5,1302.5 1110.0,1307.0 1114.6,1311.7C1119.1,1316.4 1123.7,1321.1 1128.3,1325.4C1132.9,1329.7 1135.2,1332.0 1142.0,1337.7C1148.8,1343.4 1160.2,1352.7 1169.3,1359.5C1178.4,1366.3 1187.5,1372.6 1196.6,1378.6C1205.7,1384.6 1214.8,1390.2 1223.9,1395.6C1233.0,1401.0 1242.1,1406.2 1251.2,1410.9C1260.3,1415.6 1269.4,1419.8 1278.5,1423.7C1287.6,1427.7 1297.5,1431.3 1305.9,1434.6C1314.3,1437.9 1325.2,1442.2 1329.1,1443.7" fill="none" stroke="#dc434a" stroke-width="5.2" stroke-linejoin="round"/>
<path d="M1313.7,1111.4L1329.2,1111.4L1329.2,1539.7L1313.7,1539.7" fill="none" stroke="#dc434a" stroke-width="3.2" />
<path d="M1329.2,1154.2L1318.9,1154.2M1329.2,1197.1L1313.7,1197.1M1329.2,1239.9L1318.9,1239.9M1329.2,1282.7L1313.7,1282.7M1329.2,1325.6L1318.9,1325.6M1329.2,1368.4L1313.7,1368.4M1329.2,1411.2L1318.9,1411.2M1329.2,1454.0L1313.7,1454.0M1329.2,1496.9L1318.9,1496.9" stroke="#dc434a" stroke-width="3.2" fill="none"/>
<text transform="translate(798.20 1578.00)" font-size="29.2" font-weight="normal" fill="#000" text-anchor="middle" clip-path="url(#k7)">10</text>
<text transform="translate(851.30 1578.00)" font-size="29.2" font-weight="normal" fill="#000" text-anchor="middle" clip-path="url(#k8)">11</text>
<text transform="translate(904.40 1578.00)" font-size="29.2" font-weight="normal" fill="#000" text-anchor="middle" clip-path="url(#k9)">12</text>
<text transform="translate(957.50 1578.00)" font-size="29.2" font-weight="normal" fill="#000" text-anchor="middle" clip-path="url(#k10)">13</text>
<text transform="translate(1010.60 1578.00)" font-size="29.2" font-weight="normal" fill="#000" text-anchor="middle" clip-path="url(#k11)">14</text>
<text transform="translate(1063.70 1578.00)" font-size="29.2" font-weight="normal" fill="#000" text-anchor="middle" clip-path="url(#k12)">15</text>
<text transform="translate(1116.80 1578.00)" font-size="29.2" font-weight="normal" fill="#000" text-anchor="middle" clip-path="url(#k13)">16</text>
<text transform="translate(1169.90 1578.00)" font-size="29.2" font-weight="normal" fill="#000" text-anchor="middle" clip-path="url(#k14)">17</text>
<text transform="translate(1223.00 1578.00)" font-size="29.2" font-weight="normal" fill="#000" text-anchor="middle" clip-path="url(#k15)">18</text>
<text transform="translate(1276.10 1578.00)" font-size="29.2" font-weight="normal" fill="#000" text-anchor="middle" clip-path="url(#k16)">19</text>
<text transform="translate(1329.20 1578.00)" font-size="29.2" font-weight="normal" fill="#000" text-anchor="middle">20</text>
<text transform="translate(780.30 1120.20)" font-size="29.2" font-weight="normal" fill="#000" text-anchor="end">0.0</text>
<text transform="translate(780.30 1198.10)" font-size="29.2" font-weight="normal" fill="#000" text-anchor="end">-0.5</text>
<text transform="translate(780.30 1276.00)" font-size="29.2" font-weight="normal" fill="#000" text-anchor="end" clip-path="url(#k17)">-1.0</text>
<text transform="translate(780.30 1353.90)" font-size="29.2" font-weight="normal" fill="#000" text-anchor="end" clip-path="url(#k18)">-1.5</text>
<text transform="translate(780.30 1431.80)" font-size="29.2" font-weight="normal" fill="#000" text-anchor="end">-2.0</text>
<text transform="translate(780.30 1509.70)" font-size="29.2" font-weight="normal" fill="#000" text-anchor="end">-2.5</text>
<text transform="translate(1345.60 1120.20)" font-size="29.2" font-weight="normal" fill="#dc434a" text-anchor="start">-25</text>
<text transform="translate(1345.60 1205.86)" font-size="29.2" font-weight="normal" fill="#dc434a" text-anchor="start">-30</text>
<text transform="translate(1345.60 1291.52)" font-size="29.2" font-weight="normal" fill="#dc434a" text-anchor="start">-35</text>
<text transform="translate(1345.60 1377.18)" font-size="29.2" font-weight="normal" fill="#dc434a" text-anchor="start">-40</text>
<text transform="translate(1345.60 1462.84)" font-size="29.2" font-weight="normal" fill="#dc434a" text-anchor="start">-45</text>
<text transform="translate(1345.60 1548.50)" font-size="29.2" font-weight="normal" fill="#dc434a" text-anchor="start">-50</text>
<text transform="translate(703.50 1325.00) rotate(-90)" font-size="36.5" font-weight="normal" fill="#000" text-anchor="middle">S<tspan font-size="24.0" dy="10.0">22</tspan><tspan dy="-10.0"> (dB)</tspan></text>
<text transform="translate(1428.50 1319.90) rotate(-90)" font-size="36.5" font-weight="normal" fill="#e0141e" text-anchor="middle" clip-path="url(#k19)">S<tspan font-size="24.0" dy="9.0">21</tspan><tspan dy="-9.0"> (dB)</tspan></text>
<text transform="translate(970.59 1634.40) scale(1.0069 1)" font-size="36.5" font-weight="normal" fill="#000" text-anchor="start">Freq (MHz)</text>
<rect x="950" y="1637.4" width="230" height="11" fill="#fff"/>
<text transform="translate(1103.86 1480.50) scale(0.9702 1)" font-size="42.9" font-weight="bold" fill="#000" text-anchor="start">Z = 0 cm</text>
<!-- panel d -->
<rect x="1552.3" y="1095.0" width="557.0" height="448.6" fill="none" stroke="#000" stroke-width="3.4"/>
<path d="M1586.6,1543.6L1586.6,1527.6M1586.6,1095.0L1586.6,1111.0M1638.9,1543.6L1638.9,1533.0M1638.9,1095.0L1638.9,1105.6M1691.2,1543.6L1691.2,1527.6M1691.2,1095.0L1691.2,1111.0M1743.5,1543.6L1743.5,1533.0M1743.5,1095.0L1743.5,1105.6M1795.8,1543.6L1795.8,1527.6M1795.8,1095.0L1795.8,1111.0M1848.1,1543.6L1848.1,1533.0M1848.1,1095.0L1848.1,1105.6M1900.4,1543.6L1900.4,1527.6M1900.4,1095.0L1900.4,1111.0M1952.7,1543.6L1952.7,1533.0M1952.7,1095.0L1952.7,1105.6M2005.0,1543.6L2005.0,1527.6M2005.0,1095.0L2005.0,1111.0M2057.3,1543.6L2057.3,1533.0M2057.3,1095.0L2057.3,1105.6M1552.3,1493.7L1562.9,1493.7M2109.3,1493.7L2098.7,1493.7M1552.3,1443.8L1568.3,1443.8M2109.3,1443.8L2093.3,1443.8M1552.3,1393.9L1562.9,1393.9M2109.3,1393.9L2098.7,1393.9M1552.3,1344.0L1568.3,1344.0M2109.3,1344.0L2093.3,1344.0M1552.3,1294.1L1562.9,1294.1M2109.3,1294.1L2098.7,1294.1M1552.3,1244.2L1568.3,1244.2M2109.3,1244.2L2093.3,1244.2M1552.3,1194.3L1562.9,1194.3M2109.3,1194.3L2098.7,1194.3M1552.3,1144.4L1568.3,1144.4M2109.3,1144.4L2093.3,1144.4" stroke="#000" stroke-width="3.4" fill="none"/>
<text transform="translate(1586.60 1585.00)" font-size="30.0" font-weight="normal" fill="#000" text-anchor="middle">0</text>
<text transform="translate(1691.21 1585.00)" font-size="30.0" font-weight="normal" fill="#000" text-anchor="middle">3</text>
<text transform="translate(1795.82 1585.00)" font-size="30.0" font-weight="normal" fill="#000" text-anchor="middle">6</text>
<text transform="translate(1900.43 1585.00)" font-size="30.0" font-weight="normal" fill="#000" text-anchor="middle">9</text>
<text transform="translate(2005.04 1585.00)" font-size="30.0" font-weight="normal" fill="#000" text-anchor="middle" clip-path="url(#k20)">12</text>
<text transform="translate(2109.65 1585.00)" font-size="30.0" font-weight="normal" fill="#000" text-anchor="middle" clip-path="url(#k21)">15</text>
<text transform="translate(1533.20 1553.00)" font-size="30.0" font-weight="normal" fill="#000" text-anchor="end">0</text>
<text transform="translate(1533.20 1453.20)" font-size="30.0" font-weight="normal" fill="#000" text-anchor="end">2</text>
<text transform="translate(1533.20 1353.40)" font-size="30.0" font-weight="normal" fill="#000" text-anchor="end">4</text>
<text transform="translate(1533.20 1253.60)" font-size="30.0" font-weight="normal" fill="#000" text-anchor="end">6</text>
<text transform="translate(1533.20 1153.80)" font-size="30.0" font-weight="normal" fill="#000" text-anchor="end">8</text>
<text transform="translate(1500.20 1318.50) rotate(-90) scale(0.9850 1)" font-size="38.7" font-weight="normal" fill="#000" text-anchor="middle">Power (mW)</text>
<text transform="translate(1775.28 1643.40) scale(0.9951 1)" font-size="38.7" font-weight="normal" fill="#000" text-anchor="start">Z (cm)</text>
<polyline points="1586.6,1150.6 1656.2,1164.8 1725.7,1202.8 1760.8,1226.8 1810.0,1269.0 1831.0,1283.0 1864.7,1312.7 1899.6,1338.5 1952.0,1376.8 1969.5,1387.0 2039.6,1427.0 2073.9,1443.2" fill="none" stroke="#f5841f" stroke-width="5"/>
<circle cx="1586.6" cy="1150.6" r="8.2" fill="#f5841f" stroke="#fff" stroke-width="2.4"/>
<circle cx="1656.2" cy="1164.8" r="8.2" fill="#f5841f" stroke="#fff" stroke-width="2.4"/>
<circle cx="1725.7" cy="1202.8" r="8.2" fill="#f5841f" stroke="#fff" stroke-width="2.4"/>
<circle cx="1760.8" cy="1226.8" r="8.2" fill="#f5841f" stroke="#fff" stroke-width="2.4"/>
<circle cx="1810.0" cy="1269.0" r="8.2" fill="#f5841f" stroke="#fff" stroke-width="2.4"/>
<circle cx="1831.0" cy="1283.0" r="8.2" fill="#f5841f" stroke="#fff" stroke-width="2.4"/>
<circle cx="1864.7" cy="1312.7" r="8.2" fill="#f5841f" stroke="#fff" stroke-width="2.4"/>
<circle cx="1899.6" cy="1338.5" r="8.2" fill="#f5841f" stroke="#fff" stroke-width="2.4"/>
<circle cx="1952.0" cy="1376.8" r="8.2" fill="#f5841f" stroke="#fff" stroke-width="2.4"/>
<circle cx="1969.5" cy="1387.0" r="8.2" fill="#f5841f" stroke="#fff" stroke-width="2.4"/>
<circle cx="2039.6" cy="1427.0" r="8.2" fill="#f5841f" stroke="#fff" stroke-width="2.4"/>
<circle cx="2073.9" cy="1443.2" r="8.2" fill="#f5841f" stroke="#fff" stroke-width="2.4"/>
<text transform="translate(1870.00 1174.30) scale(0.9640 1)" font-size="43.0" font-weight="bold" fill="#f5841f" text-anchor="start">P<tspan font-size="28.0" dy="9.6">in</tspan><tspan dy="-9.6"> = 8W</tspan></text>
<text transform="translate(1870.00 1223.80) scale(0.9650 1)" font-size="43.0" font-weight="bold" fill="#000" text-anchor="start" clip-path="url(#k22)">R<tspan font-size="28.0" dy="9.7">L</tspan><tspan dy="-9.7"> = 1kΩ</tspan></text>
<text transform="translate(1596.89 1327.10) scale(0.9926 1)" font-size="42.3" font-weight="bold" fill="#000" text-anchor="start">NFC coil</text>
<text transform="translate(1913.94 1456.00) scale(0.9477 1)" font-size="43.0" font-weight="bold" fill="#168a16" text-anchor="start">Tx</text>
<text transform="translate(1912.79 1505.40) scale(0.9468 1)" font-size="43.0" font-weight="bold" fill="#168a16" text-anchor="start">Antenna</text>
<path d="M1728.5,1455.5L1738.5,1449.0L1801.7,1485.2L1944.6,1400.4L1809.9,1323.7L1666.1,1406.7M1666.1,1406.7L1723.5,1440.2L1713.0,1446.3" fill="none" stroke="#168a16" stroke-width="4.6" stroke-linejoin="miter"/>
<line x1="1713.0" y1="1446.3" x2="1728.5" y2="1455.5" stroke="#e8763c" stroke-width="4"/>
<circle cx="1713.0" cy="1446.3" r="4" fill="#168a16"/><circle cx="1728.5" cy="1455.5" r="4" fill="#168a16"/>
<ellipse cx="1806.3" cy="1395.1" rx="4.2" ry="3" fill="#e6ecc0"/>
<line x1="1585.6" y1="1459" x2="1585.6" y2="1410" stroke="#000" stroke-width="4.4"/>
<polygon fill="#000" points="1585.6,1388.1 1597.6,1412.1 1573.6,1412.1"/>
<line x1="1585.6" y1="1457.2" x2="1623.5" y2="1435.4" stroke="#000" stroke-width="4.4"/><polygon fill="#000" points="1640.1,1425.8 1625.3,1448.2 1613.3,1427.4"/>
<line x1="1585.6" y1="1457.2" x2="1622.3" y2="1477.5" stroke="#000" stroke-width="4.4"/><polygon fill="#000" points="1639.1,1486.8 1612.3,1485.7 1623.9,1464.7"/>
<text transform="translate(1575.89 1374.70) scale(1.1114 1)" font-size="33.4" font-weight="bold" fill="#000" text-anchor="start">Z</text>
<text transform="translate(1636.12 1430.60) scale(1.0109 1)" font-size="33.4" font-weight="bold" fill="#000" text-anchor="start">Y</text>
<text transform="translate(1642.41 1507.20) scale(0.9866 1)" font-size="33.4" font-weight="bold" fill="#000" text-anchor="start">X</text>
<line x1="1764.2" y1="1341.1" x2="1785.4" y2="1368.0" stroke="#000" stroke-width="4.4"/><polygon fill="#000" points="1797.3,1383.1 1773.0,1371.7 1791.9,1356.8"/>
<line x1="1874.5" y1="1500.8" x2="1870.4" y2="1472.8" stroke="#000" stroke-width="4.3"/><polygon fill="#000" points="1867.7,1453.8 1882.7,1475.9 1859.6,1479.2"/>
</svg>
</body></html>
